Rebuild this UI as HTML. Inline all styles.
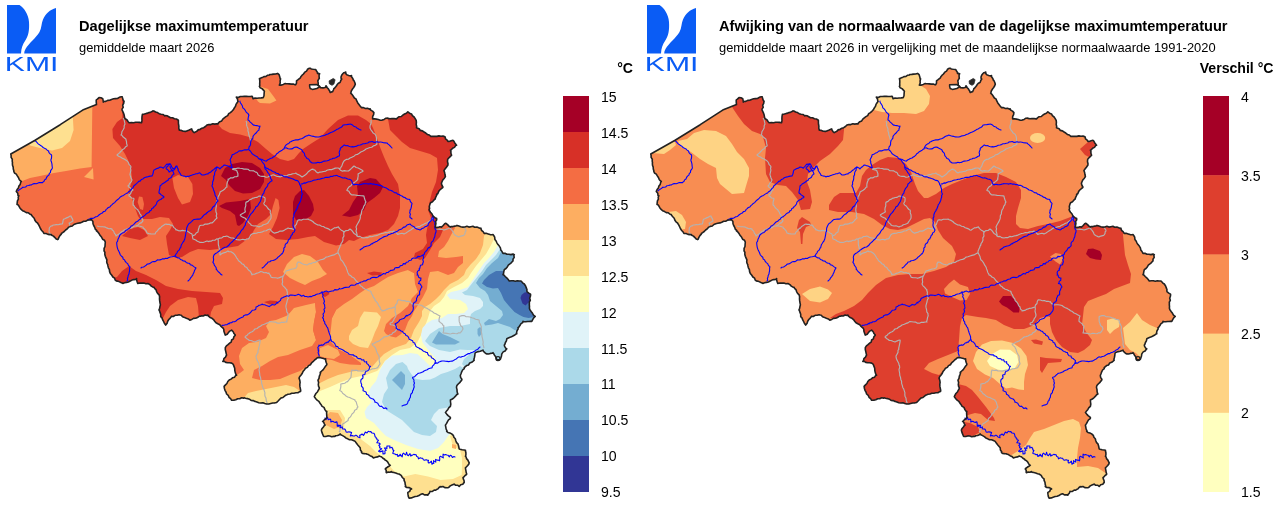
<!DOCTYPE html>
<html lang="nl"><head><meta charset="utf-8"><title>KMI - Dagelijkse maximumtemperatuur</title>
<style>
html,body{margin:0;padding:0;background:#fff;}
body{width:1280px;height:507px;overflow:hidden;font-family:"Liberation Sans",sans-serif;}
svg{display:block;font-family:"Liberation Sans",sans-serif;}
.rv{fill:none;stroke:#0000ff;stroke-width:1.1;stroke-linejoin:round;stroke-linecap:round}
.pv{fill:none;stroke:#b2b2b2;stroke-width:1.15;stroke-linejoin:round}
.ol{fill:none;stroke:#222;stroke-width:1.6;stroke-linejoin:round}
.lb{font-size:14.1px;fill:#000}
.t1{font-size:14.6px;font-weight:bold;fill:#000}
.t2{font-size:12.9px;fill:#000}
.un{font-size:14.1px;font-weight:bold;fill:#000}
</style></head><body>
<svg width="1280" height="507" viewBox="0 0 1280 507">
<defs>
<clipPath id="be"><polygon points="10.8,154 35.1,140.2 60.2,124.7 82.7,110.1 96.5,104.6 96.3,102.6 96.2,100.6 96.5,99.6 97.4,99.1 99,97.6 101,97.8 102.8,98.8 102.8,98.8 103.2,100.8 103.3,102.1 103.8,101.5 105.9,101.4 107.7,100.4 109.7,100.2 111.5,99.4 113.5,98.8 115.5,98.6 117.5,98.5 119.3,97.3 121.2,96.8 122.3,96.8 122.5,97.7 123,99.7 124.1,101.4 124,101.4 123.7,103.4 122.7,105.2 123.2,107.4 122,109.1 122.1,110.1 122.6,111.1 123.4,112.9 124.1,114.8 124.5,116.8 124.6,117.6 125.1,118.7 126.9,119.8 128,121.5 129.1,122.7 129.5,122.8 131.5,122.6 133.5,122.7 135.5,122.3 137.5,122.3 139.5,122.4 141.6,122.7 142,120.7 141.9,118.7 142,116.7 142.4,114.4 144.4,114 146.3,113.4 147.9,113.1 148.1,112.8 150.2,112.4 152,111.5 152.9,110.9 153.8,111 155.6,112 157.5,112.6 159.2,113.7 161.1,114.2 163.2,114.5 164.8,115.9 165.4,115.6 167,115.8 168.8,116.7 170.5,117.7 172.6,117.8 174.4,118.8 176.4,119 178.4,120.2 178.4,122.2 178.5,124.2 178.9,126.2 178.8,128.2 179.4,130.2 181.4,130.4 183.3,131.2 185.5,131.4 187.4,130.7 189.2,130 191,129.1 191.7,128.9 192.1,130.2 193.2,131.9 194.2,132.7 194.8,132.3 196.7,131.4 198.1,129.9 200.1,129.4 200.5,128.9 201.8,128.3 203.7,127.7 205.4,126.5 206.9,125.1 208,124.7 208.8,124.5 210.8,124.6 212.8,123.8 214.8,124.1 216.8,123.7 218,123.9 218.3,123.1 219.8,121.7 221.7,120.9 222.8,119.1 224.3,117.8 225.9,116.6 227.7,115.6 228.7,113.7 230.4,112.6 231.8,111.4 231.9,111.3 233.3,109.8 234.3,108 235.4,106.4 236,104.4 237.1,102.8 238.1,101.4 237.8,101.1 237.5,99.1 236.3,97.1 238.3,97.5 240.3,96.5 242.3,96.5 244.3,96.4 246.3,96.3 248.3,96.5 250.3,96.5 251.9,96.3 252.3,96.5 253.1,98.8 255,98.1 257.1,98.2 259,98 261.1,97.9 263.2,97.6 264,95.7 264.1,93.7 264.3,91.7 264.4,91.3 263.4,90.1 262,88.6 260.1,87.7 259.4,86.3 259.8,85.8 259.7,83.8 259.8,81.8 259.7,79.8 259.4,78.8 260.3,78.3 262.2,77.6 263.9,76.6 266,76.4 267.7,75.2 269.4,75 269.7,74.5 271.7,74.4 273.6,74.1 275.6,74 277.6,73.4 278.2,73.8 279.2,74.9 279.8,76.9 280.2,78.8 280.6,78.9 280.1,80.9 280.2,82.9 279.4,85.1 281.4,85.1 283.3,84.4 285.2,83.5 285.7,83.8 287.3,83.7 289.3,83.9 291.3,84.1 293.3,84 295.2,84.9 295.7,84.6 296.5,83.2 296.5,80.8 298.1,79.6 299.7,78.3 300.4,77.8 300.8,76.7 302.1,75.2 303.6,74 303.6,73.8 304.8,72.2 306.5,71.1 307.4,69.6 307.5,69.2 309.3,68.3 310.5,68.3 311.2,69 313.3,69.3 315.3,69.5 316.2,70.2 316.5,71.1 317.7,72.7 317.5,73.4 319,73.6 319.7,73.7 319.1,74.9 319.1,76.9 319.3,78.4 318.9,78.8 317.8,80.9 318.2,82.9 318.2,84.9 318.1,85.3 319.5,86.2 320,87.2 320.8,87.7 323.1,87.9 325,87.4 325.7,87.2 326,85.7 326.9,86.9 326.9,87.5 328.4,88.9 328.8,89.8 329.5,90.6 330.1,92.3 330.4,92.5 332,91.7 332.5,91.8 333.4,90 333.9,88.5 334.5,88.3 335.7,86.8 336.9,85.2 337,84.7 338.1,83.5 339.8,82.5 340.2,82.2 340.7,80.7 341.7,79 341.2,79 341,77.1 341.4,75.9 341.8,75.1 343,73.5 343.9,72.7 344.7,72.6 345.8,72.1 345.6,73 346.5,74.6 346.7,74.6 348.6,75.5 350.6,75.9 351.5,75.6 351.5,76.8 352.8,78.5 353.4,80.3 353.7,80.2 354.6,82 355.3,84.1 354.6,86 353.6,87.7 352.8,88.5 352.3,89.3 351.3,91 350.9,92.9 350.7,93.2 352.2,94.6 353.3,96.3 354.4,98 356.2,99.1 356.4,100.1 356.9,101.1 357.8,102.9 359,104.5 360.1,106.1 361.4,107.6 361.5,107.6 363.5,107.6 365.4,108.5 367.4,108.3 369.3,109.1 370.2,108.9 370.7,110.1 372.5,111.1 373.9,112.6 373.6,114.6 372.7,116.4 372.6,118.5 372.7,118.9 374.3,118.8 376.3,119.1 378.3,119.5 380.2,120.2 382.2,120.1 384.1,119.4 385.9,118.2 387.7,118.1 387.9,118.4 389.9,118.8 391.9,118.6 393.9,118.5 395.9,118.9 396.5,118.9 397.5,117.9 399.1,116.7 401.3,116.5 402.8,115.1 404.5,114 406.4,113.3 407.8,111.9 407.9,111.9 409.5,113.2 411.5,113.9 412.4,115.7 414.1,117 415.2,118.6 416,120.2 416.2,120.4 416.4,122.4 416.2,124.5 416.7,126.4 416.5,127.7 417.2,128 419.1,128.7 420.4,130.4 422.4,130.9 424.1,132 425.3,132.7 425.8,133.1 427.4,134.4 429.3,135 430.8,136.4 431.6,136.4 432.9,136.4 434.9,136.4 436.9,136.4 438.9,135.9 440.9,136.3 442.9,136.1 444.1,136.4 445,136.8 445.5,138.8 447.2,140.1 447.9,141.5 448.3,141.4 450.3,141.1 452.2,140.4 452.9,140.2 453.8,141.1 454.8,142.9 456,144.5 456.6,145.2 455.6,145.6 454.5,147.4 452.6,148.3 451.3,149.8 450.4,150.2 450.9,151.2 450.9,153.3 451.6,155.2 450.2,156.6 448.8,158 447.9,159 447.6,159.7 447.5,161.7 448,163.7 447.9,165.3 447.6,165.5 446.4,167.2 445.2,168.8 444.1,170.3 443.9,170.5 444.6,172.4 444.9,174.3 445.4,176.5 444.4,178.2 443,179.7 442.1,181.5 441.6,182.8 441.4,183.5 442,185.5 442.9,187 442.9,187.3 441.4,188.7 439.8,190 438.6,191.6 437.9,193.5 436.6,194.5 436.8,195 435.9,196.8 435.3,198.3 435.3,198.9 433.8,200.2 432.5,201.7 430.6,202.7 430.3,203.3 429.8,204.6 429.3,206.5 429.6,208.6 429.1,209.6 429.4,210.5 430.5,212.2 431.9,213.7 432.8,215.8 434.3,217.2 435.9,218.4 436.6,218.3 436.7,219.8 435.6,221.6 435.9,223.7 435.5,225.7 435.3,227.1 435.9,227.6 437.9,227.4 439.9,226.8 441.6,227.1 441.7,226.9 443.2,225.5 444.5,224 445.4,223.3 446.3,223.6 447.8,224.9 449.2,226.4 450.4,227.1 450.9,226.5 453,226.6 454.9,226.1 456.6,225.8 457,225.4 458.9,226.1 460.8,226.8 462.9,227.1 464.9,227 466.9,226.3 468.9,227.1 470.9,226.7 472.9,226.3 474.7,227.3 476.9,227 478.7,227.7 480.5,228.4 480.9,228.2 481.5,230.3 483.1,231.6 484.2,233.4 486.2,233.3 488.2,233.9 490.1,234.6 492.1,234.8 493,234.6 493.7,235.5 494.7,237.2 494.9,239.4 496.1,241 496.9,242.8 498,244.6 499.3,246.1 500.4,247.9 500.8,249.9 502,251.5 503,253.4 505,253.2 506.9,254.3 508.9,254.2 510.9,254.6 513,254.1 514.3,254.7 513.8,255.2 514.2,257.4 513,259.2 513,260.9 512.8,261.1 511.5,262.6 509.9,263.9 508.3,265.1 507.3,267 506,268.5 504.3,269.7 503.8,271.6 503.5,273.6 503,274.7 503.9,275 505.2,276.5 506.7,277.8 508,279.3 509.3,281 511.3,280.8 513.3,280.8 515.3,281.3 517.3,280.8 519.3,281 520.6,281 521.3,281.3 522.6,282.8 524.3,284 525.6,286 526.3,287.9 527,289.8 526.8,291 527.2,291.8 528.8,293.1 530.5,294.2 530.6,294.8 530.4,296.3 529.7,298.2 530.3,300.3 529.3,302.2 529.4,304.2 529.3,304.8 529.5,306.2 529.4,308.2 530,310 530.2,310.1 531.3,311.7 532.5,313.3 533.5,315.1 535.1,316.3 535.2,316.4 533.7,317.8 532.7,319.6 531.8,321.3 531.7,321.2 529.7,321.4 527.7,321.5 525.7,321.7 523.7,321.7 523.1,321.3 522.6,322.6 520.8,323.8 519.9,325.6 518.7,327.2 518,327.6 518.2,328.9 517,330.7 516.6,332.7 516.8,333.8 515.9,334.1 514.3,335.3 512.5,336.2 510.7,337.1 508.8,337.8 506.8,338.8 506.4,340.8 505.4,342.5 504.8,344.5 504.3,345.1 504.6,346.4 505.7,348.1 506.8,348.9 506.3,349.3 505.1,351 503.2,351.9 501.8,353.9 501.5,355.9 500.9,357.8 500.5,358.9 499.9,359.6 497.8,359.9 497,360 496.5,358.9 495.8,357.1 495.5,356.4 494.6,355.5 493.7,353.7 493,352.6 492.4,353.2 490.4,353.4 488.5,354 486.7,353.9 486.4,353.8 484.8,352.6 483.4,351.2 483,350.1 482.1,350.6 480.3,351.3 478.2,351.6 476.4,352.3 475.4,352.6 475,353.5 474.8,355.5 474.4,357.5 473.9,359.4 474.2,360.2 473.2,361.1 471.7,362.3 469.7,363 468.6,364.9 466.6,365.6 465.1,366.9 464.2,367.7 464.3,368.6 462.6,370 461.7,371.8 461,373.7 460.4,375.2 460.3,375.6 460.7,377.6 461.9,379.3 461.7,380.2 460.9,381.1 459.7,382.7 458.2,384 456.9,385.6 456.6,386.5 456.5,387.6 457,389.6 457.1,391.6 457.6,393.5 457.9,394 456.6,394.8 455.3,396.4 453.9,397.8 452.3,399 450.4,400 450.5,402 450.8,404 450.4,406.3 448.9,407.7 447.9,409.4 446.6,410.9 445.4,412.6 446.7,414.1 448.1,415.6 449.7,416.8 450.4,417.6 450.3,418.6 448.5,419.9 447.5,421.6 446.6,423.4 445.4,425.1 445.8,427.1 446.1,429 447,430.9 446.7,431.4 447.9,432.4 449.9,433 451.7,433.9 452.9,435.1 453.3,435.3 453.9,437.3 455.3,438.7 455.8,440.7 456.6,442.6 457.9,443.9 458,444.1 458.6,446 459,448 459.2,448.9 460.2,449.3 462.1,449.8 464.1,450 465.5,450.2 465.4,450.8 465.9,452.8 465.9,454.8 465.5,456.4 465.9,456.6 466.5,458.6 467.9,460.1 468.7,462 469.2,462.7 468.9,463.9 467.7,465.5 466.3,467 465.5,467.7 465.5,468.6 465.9,470.6 466.2,472.5 466.7,474 466.5,474.5 464.9,475.7 463.6,477.2 463,477.7 463.3,478.9 464.1,480.8 464.2,482.8 464,482.5 462.8,484.2 460.7,484.8 459.2,486.5 457.6,485.2 455.4,485.1 454.2,484 453.9,484.2 452,485 450.2,485.9 448.7,487.4 447.9,487.8 446.8,487.8 444.8,487.6 443,486.5 440.9,486.9 440.4,486.5 439.2,487.3 437.9,488.9 436.1,489.8 435.4,490.3 434.2,490.1 432.4,491.4 430.4,491.5 430.1,491.3 429.3,493.2 427.9,494.6 427.9,495.3 426.5,494.8 424.4,494.9 422.6,493.8 421.6,494 420.6,494.4 419,495.6 417.1,496.3 415.3,496.5 415.1,496.6 413.1,497.2 411.3,497.9 409.1,498.3 408.3,496.4 408,494.4 407.8,492.8 407.9,492.4 409.7,491.4 410.5,489.4 411.6,489 410.8,488.4 409,487.6 406.8,487.5 405.3,486.5 405.7,486.2 405.2,484.3 405,482.3 404.1,480.4 404.1,479 403.6,478.7 402.2,477.3 401.2,475.4 399.4,474.3 399,474 397.6,473.7 395.7,473 393.8,472.5 391.8,472.1 391.5,471.5 390.1,472.2 388,472 386.5,472.7 386.2,472.4 386.2,470.3 385.3,469 385.6,468.5 387.2,467.3 388.9,466.3 390.3,465.2 389.9,465.2 388.6,463.7 387.6,461.9 386.2,460.5 385.3,460.2 384.6,459.2 382.9,458.2 381.4,456.7 380.3,456.4 379.3,456.1 377.5,456.9 375.5,457.2 374,457.7 373.4,457.9 371.9,456.4 370,455.7 368.4,454.6 366.5,453.9 366.5,453.7 364.5,453.6 362.5,453.4 361.5,452.7 361.7,451.7 360.4,450 360.2,447.7 358.9,446.2 357.6,444.7 356.3,443.1 355.2,441.4 353.4,440.5 351.6,439.7 349.4,439.7 347.7,438.9 347.7,438.7 345.8,437.9 344.3,436.6 342.6,435.6 340.8,434.7 340.2,433.9 339.4,434.7 337.6,435.5 335.5,435.8 335.1,436.4 333.7,436.4 331.7,436.7 329.7,436 327.7,435.9 325.7,436.5 323.9,436.4 323.5,436.3 322.8,434.5 322,432.6 321.5,430.7 321.4,430.1 321.9,428.7 323.2,427.2 324.4,425.6 325.1,425.1 324.5,424.1 323.6,422.2 322.6,421.4 323.3,421.1 324.6,419.6 326.1,418.3 326.8,417.8 326.8,416.6 326.7,414.6 326.6,412.6 326.8,411.5 325.9,411.1 324.8,409.4 324,407.4 322.1,406.4 321.1,404.6 320.6,404 319.9,403 318.8,401.3 317.1,400.2 315.8,398.7 314.5,397.1 314.3,396.5 314.9,395.3 315.9,393.5 317.4,392 318.2,390.3 319.3,388.5 319.3,387.7 318.6,386.5 318.3,384.6 318.6,382.5 318,380.2 319,378.4 319.3,376.4 320,374.6 320.6,372.7 320.2,372.4 321.7,371 323.3,369.6 324.4,367.9 325.5,366.3 326.8,364.7 326.8,363.9 326.3,362.7 325.7,360.8 325.6,358.9 325.4,359.2 323.5,358.5 321.5,358 319.6,357.4 318,357.6 317.5,357.7 316,359 314.4,360.2 313,361.7 311.8,362.7 311.5,363 310.4,364.7 308.5,365.6 307.4,367.4 305.5,368.3 304.3,369.9 303,371.4 303.1,371.5 302.3,373.3 301.1,375 299.8,376.5 299.2,377.7 299.1,378.4 299.8,380.3 300.1,382.3 299.8,384.4 299.9,386.4 300.3,388.3 300.7,390.3 300.5,391.5 299.7,391.6 297.9,392.7 295.9,392.8 293.9,393.2 291.8,393.2 290,394 288,394.2 286.1,395.1 285.5,395.2 284.6,396.2 283,397.4 280.9,398.1 279.5,399.5 278.1,401 276.7,402.4 275.4,402.8 274.7,402.9 272.7,403 270.7,403.5 268.8,404 266.7,404 264.8,403.4 262.9,402.7 260.8,403 258.8,402.7 256.9,402 255.4,401.5 255,401.4 253.2,400.6 251.1,400.4 249.4,399.2 247.5,398.6 245.5,398.2 244.1,397.7 243.7,398.1 241.6,397.8 239.7,398.8 237.7,398.7 235.8,399.7 233.9,400.1 231.6,400.3 230.6,398.6 229,397.3 228.2,395.3 226.6,394 226,392.1 225,390.3 224.4,388.4 224.1,386.5 224.1,386.4 225.5,384.9 226.9,383.5 227.8,381.5 229.2,380 231,379.1 232.5,377.8 234.6,377.2 235.7,375.4 236.6,375.2 235.8,374.2 235.2,372.3 234.8,370.3 234.7,368.3 234,366.4 233.3,364.5 232.8,363.9 231.7,363.1 229.7,362.7 227.7,362.8 225.7,362.4 223.9,361.2 222.8,361.4 223.5,360.7 223.9,358.6 225.5,357.2 226.3,355.4 226.6,355.1 226.2,353.6 225.8,351.6 225.3,349.6 225.3,347.6 226.4,345.8 228,344.6 229.4,343.3 230.3,342.6 231.2,342.1 231.6,340 233.4,338.8 233.9,336.7 235.3,335.1 234,333.6 233.2,331.7 231.6,330.1 229.8,331.1 228.5,332.6 227.2,334.2 225.3,335.1 224.6,333.2 223.9,331.3 223.8,329.3 222.8,327.6 222.5,327.8 221.1,326.4 219.8,324.8 217.8,323.8 216,322.8 214.7,321.2 213.5,319.6 212,318.3 210,317.5 208.5,316.2 207.8,315 207.2,315.5 205.1,315 203.2,316 201.2,315.9 200.3,316.3 199.2,316.3 197.5,317.5 195.6,318.3 193.5,318.4 191.8,319.4 190.2,320.1 189.8,320.2 188.3,318.9 186.3,318.3 184.5,317.4 182.6,316.8 181.2,315.2 180.2,315 179.1,314.7 177.2,315.3 175.1,315.3 173.3,316.5 171.4,316.3 171.5,316.6 170.2,318.1 168.8,319.5 167.7,321.2 167.1,323.2 165.7,325.1 164.5,323.5 163.7,321.7 162.7,319.9 162.1,317.9 161.4,317.5 160.7,316.4 160.7,314.3 160,312.4 159.4,310.5 158.9,310 159.5,308.8 159.9,306.8 160.4,304.8 160,302.8 159.7,300.9 159.5,298.9 159.6,296.8 159.1,294.8 157.6,293.4 156.6,291.6 156,289.7 154.5,288.3 154.1,287.3 153,287.2 151.3,286.1 149.9,284.6 147.9,283.5 145.9,283.7 143.9,283 141.9,283.1 139.9,283 137.8,283.5 137.1,281.6 136.5,279.7 136.6,278.5 136,279.2 133.9,279.6 132,280.1 130.3,281 130.2,281.1 128.4,281.9 126.5,282.4 124.5,282.8 122.8,283.5 122.7,283.3 120.9,282.5 119,281.6 117.1,281.1 116.5,281 115.3,280.2 114.6,278.2 112.9,277 111.8,275.3 110.3,273.5 109.6,271.6 109.4,269.6 108.4,267.8 107.9,265.9 107.8,264.7 107.3,263.9 106.7,262 106.9,259.9 106.1,258.1 105.3,256.2 104.8,254.3 104.9,252.2 104,250.9 104.1,250.4 104.1,248.3 105,246.5 105.1,244.5 105.3,242.1 104.5,240.2 102.6,239.2 101.5,237.1 100.2,235.6 99.2,233.8 98,232.2 96.5,230.9 96.9,230.7 95.3,229.2 94.7,227.3 93.7,225.5 93,223.7 92.9,221.5 91.5,219.6 89.5,220 87.5,220.1 86.5,220.8 85.7,221.2 83.7,221.2 81.8,222.2 80,222.9 77.7,223.3 75.8,223.8 73.9,224.5 72.3,226 70.3,226.4 68.9,227.1 68.5,227.3 67.2,228.9 65.6,230 64.2,231.5 62.6,232.7 61.4,233.4 61.3,234.1 59.9,235.6 58.9,237.3 58.2,239.2 57.6,239.6 56.2,239.1 54.9,237.6 53.5,236.1 51.7,235.2 51.4,234.6 50,234.6 48,234.4 46.1,233.5 43.9,233.4 42.9,231.7 41.4,230.2 40.4,228.5 39.6,226.7 38.7,224.9 37.6,223.3 37.7,223.1 36,221.8 34.9,220.2 34.2,218.2 32.8,216.8 31.5,215.2 31.3,214.6 30,214.2 28.4,212.8 26.3,212.6 24.6,211.6 22.6,210.8 21.2,209.4 19.9,207.9 18.9,206.1 17.7,204.5 17,204.5 17.2,202.9 17.4,200.9 18.4,199.1 18.2,197 18.8,195.8 18,195.4 17.8,193.3 16.3,191.4 17.1,189.6 18.4,188 18.9,186 20.2,184.4 20.7,182.4 21.3,181.4 20.5,180.9 19.2,179.4 18.4,177.5 17.3,175.9 16.3,174.1 14.5,173 13.8,171.4 13.9,171.1 13.3,169.1 13.2,167.1 12.5,165.2 12.4,163.2 12.5,162.6 12.2,161.2 12.3,159.2 11.1,157.4 11.1,155.3"/></clipPath>
<g id="ovl">
<polyline points="123,118 124.1,119.8 124.5,121.7 125,124 124.2,125.8 124.1,127.9 123,130 121.9,131.7 121.7,133.8 121,135 121.8,135.1 122.9,136.8 124.5,138 126,139.3 126,140 126.5,141.5 126.6,143.5 127.2,145.4 127,146 125.7,146.7 124.5,148.4 122.7,149.4 121.4,151 120,152 120.1,152.5 118.5,153.6 117,155 118.6,156.2 120.4,157 122,158 122.1,158.2 124,158.9 125.7,160 127.3,161.1 128,162 128.5,162.8 129.2,164.7 130.7,166.2 131,167 130.5,168.1 130.9,170.2 130.5,172.1 130,174 129.9,174.1 130.4,176 131,177.9 132,180 131.2,181.9 129.7,183.3 128.9,185.1 128,186 128.5,186.7 130.1,187.8 131.6,189.1 133,190 132.5,190.2 131.3,191.7 130.6,193.7 129,195 129,196 130.1,196.4 131.5,198 133.6,198.3 134,199 133.6,200.3 133.1,202.2 133.1,204.3 133,205 134,205.8 135.1,207.5 136.5,208.9 138,210 137.9,210.3 139.1,211.9 139.9,213.8 141.2,215.3 141,216 141.5,217.4 142.5,219.2 143,221 142.8,220.9 141.6,222.6 139.7,223.4 138.3,224.9 136.5,225.8 136,226" class="pv"/>
<polyline points="52,235 50.3,233.9 49,232 49.2,230 49.3,228 50,227 50.6,226.3 52.6,225.6 53,225 54.3,225 56.3,224.6 58.3,224.7 60.2,224.1 62,224 62.4,223.9 62.9,222 63.2,219.9 64,219 64.8,218.7 66.6,217.9 68.5,217.1 70.2,216 71,216 71.3,217.2 72.5,218.9 73,221 71.3,222.1 69.5,223 69,223 69.7,224.4 70,226" class="pv"/>
<polyline points="97,226 98.9,226.5 100.9,226.7 103,226.8 104,227 105,226.9 106.8,227.9 108.7,228.7 110.7,228.6 112,229 112,229.8 113.7,231.1 114.3,233.1 115.6,234.7 116,236 116.5,235.6 118.2,234.5 119.9,233.5 121.3,232 123.1,231.1 124,230 124.6,229.7 126.5,229 128,229 128.5,228.8 130.4,228.3 132.3,227.6 133.9,226.3 136,226 138,226 140,226.3 141.9,226.8 143,227 143.2,228 144.8,229.3 146.1,230.8 147,233 148.9,233.6 150.9,233.9 152.9,234 155,234 155.9,232.2 157.4,230.8 158.6,229.2 160,228 160.4,228.2 161.6,226.5 163.3,225.4 165,224.3 166,224 166.9,224.4 169,224.2 170.8,225.3 172,225 172.7,225.6 173.7,227.4 175.3,228.6 176,230 176.5,229.8 178.4,230.6 180.4,230.9 182.5,230.4 184.5,230.7 186,231 186.6,230.8 188.3,231.8 190,232.9 192,234 192.4,236 192.7,237.9 193,239 193.9,239.3 195.7,240 197.4,241.2 199.2,242 200,242.5 201,242.2 203.1,242.5 205,241.8 206.9,241 209,241.6 210,241 211,241.2 212.8,240.2 214.9,240.3 216.7,238.9 218,239" class="pv"/>
<polyline points="246,121 246.8,122.9 246.5,125 247.2,126.9 248,128.7 248,130 247.9,130.8 248.6,132.7 248.8,134.7 249.5,136.6 250,138 250,138.6 250.5,140.5 251,141" class="pv"/>
<polyline points="232,169 233.9,169.6 235.9,170.1 237,171 237,171.6 237.9,173.5 237.9,175.5 238,176 236.6,176.6 234.6,176.8 232.8,177.9 230.7,177.7 229,179.1 228,179 228.3,180.1 227.4,182 226.9,184 226.8,186 227,187 226,187.3 224.8,189 223.1,190.2 221.4,191.2 220,192 220.1,192.5 219.4,194.4 218.5,196.2 218,197 217.9,198 217.4,200 216.5,201.8 216,203.7 216,205 216.4,205.8 216,207.8 215.8,209.8 216,212 216.8,213.9 216.2,216 217,218 215.5,219.4 214.2,220.9 212.8,222.3 212,223 211,222.8 209.1,223.6 207.2,224.1 205.1,224 203.3,225.2 201.3,225.3 200,225.6 199.4,226.1 198.9,228 198.3,230 198,232 196.2,233 195.1,234.8 193.2,235.6 193,236" class="pv"/>
<polyline points="232,169 234,168.6 236,168.6 238,168 240,168.3 242,168.5 243.9,169.1 246,169 248,169.3 249.7,170.6 251.7,170.7 253.8,170.9 255.5,172.1 256,172 257.3,172.9 258.2,174.9 260,176 262,176.4 264,176.2 265.9,177.2 268,177 269.7,175.9 271.8,175.6 272,175 273.6,174.9 275.5,175.7 277.3,176.5 279.4,176.6 280,177 281.2,176.5 283.1,175.8 285.1,175.8 287.1,175.6 288,175 289,174.6 291,174.4 292.9,173.8 294.9,173.5 296,173 296.4,173.8 298.3,174.6 300.1,175.5 301.7,176.7 302,177 303.3,176.2 305.1,175.1 306.6,173.8 308,172 309.6,170.8 311.2,169.6 313,169 312.9,169.5 314.9,170.1 316.1,171.7 318,173 319.8,172.1 321.8,171.9 323.8,171.5 325.8,171.1 327.5,170 328,170 329.5,169.6 331.6,169.6 333.5,168.9 335.3,168.1 337.3,168 338,168 339.2,168.6 340.5,170.2 342,171 342.4,171.1 344.4,170.6 346.4,171 348,171 348.5,171 350,169.7 351.5,168.4 352.9,167 354,166 354.5,166.2 356.1,167.5 358.1,168 360,169 361.8,169.9 363,171 362.8,171.4 361,172.3 359.3,173.3 358,174 358.2,174.6 358.1,176.6 357.6,178.6 358,179 357,180.3 355.5,181.6 353.9,182.8 352,184 351,185.7 349.1,186.8 347.9,188.4 347,190 346.9,190.4 348.9,191.2 349.8,193.1 351.2,194.5 352,195 353.1,194.8 355.1,195 357.1,195.4 359.1,195.5 361.1,195.7 363.1,195.9 364,196 364.1,197.1 364.7,199 365.3,200.9 366,202 365.4,202.5 365,204.6 363.8,206.2 363.2,208.2 362,210 361.5,211.9 361.3,213.9 360.3,215.8 360.3,217.8 360,219 359.7,219.7 358.9,221.6 357.9,223.3 356.9,225 356,227 356.6,228.9 356,231 356.7,233 357.1,234.9 357,236 357.8,236.6 360,236.4 361.7,237.6 364,238 365.9,237.5 368,237.6 369.8,236.4 371.9,236.8 374,236 376,235.6 377.9,235.1 379.7,234.2 381.6,233.5 383.6,233.2 384,233 385.5,232.5 387.6,232.7 389.5,231.9 391.5,231.8 393.4,231.4 394,231 395.2,231.7 396.5,233.2 398,234.5 398,234.1 399.9,233.7 401.9,233.3 404,233.9 406,233 407.6,231.9 409.3,230.7 411.1,229.8 412,229 412.7,228.5 414.5,227.8 416.4,227.2 418.4,226.6 420,226.5 420.3,226.1 422,225.1 423.8,224.3 425.5,223.2 427.5,222.7 428,222 429,221.3 430.8,220.3 432.1,218.8 433,218" class="pv"/>
<polyline points="371,120 371.2,122 370.7,124 370,125.9 370,128 370.9,129.8 372.1,131.4 373.2,133.1 375.1,134.2 376,136 376.5,138 376.5,140 376.6,142 377,144 375.4,145.3 373.4,145.9 372,147 371.9,147.3 369.9,147.5 368,148.2 366,149 364.4,150.2 362.6,151.2 360.8,152 359.2,153.2 358,154 357.6,154.4 355.5,154.8 354,156.2 352.2,157.1 350,158 348.4,159.3 346.2,159.4 344.5,160.5 344,161 343.3,162.1 342.5,163.9 341.9,165.9 341,167 340.9,167.8 339,169" class="pv"/>
<polyline points="240,215 241.7,214 243.5,213.1 245,212 245.4,211.9 244.9,209.8 245.1,207.8 245.8,205.9 245.7,203.9 246,202 246.2,202.1 248.1,201.4 249.5,199.8 251.4,199.1 253.1,198.1 254,198 255.1,197.5 257.1,197.4 258.8,196.1 260,196 260.8,196.2 262.8,196.8 264.6,197.5 265,198 265.1,199.5 264.9,201.5 263.8,203.3 264,204 264.8,205.1 266.5,206.3 267.6,208 268.9,209.5 270,210 270.4,210.9 270.2,212.9 271,214.8 271.1,216.8 271,218 270.7,218.8 269.6,220.5 268.4,222.1 268,223 267.1,223.5 265.3,224.3 263.3,224.8 261.7,226 259.7,226.5 259,227 257.9,226.5 256,225.8 253.9,226 252,225.5 251,225 250.6,224.1 249,222.9 247.9,221.2 247,220 246.5,219.9 245.2,218.2 243.3,217.4 241.5,216.5 240,215" class="pv"/>
<polyline points="218,239 219.8,238.1 221.8,237.9 223.5,236.5 225.6,236.5 226,236 227.5,236.2 229.3,237.2 231.1,238 232,238 233.2,238 235,238.9 236.9,239.7 238.9,239.9 240,240 240.9,239.7 242.8,239.3 244.9,239.9 246.8,238.9 248,239 248.8,238.6 249.8,236.8 250.7,235 252,234 252.4,233.8 254.3,233.4 256.4,233.2 258.2,232.5 260.3,232.4 262,232 262.2,232 264,231 266.1,230.8 267.8,229.8 270,229 271.2,230.6 272.5,232.1 274,233 274.4,233.1 276.3,232.6 278.3,232.1 280.1,231.1 282,231 282.2,231.2 284.1,230.4 285.7,229.3 287.5,228.4 288,228 289.3,228.5 291.3,228.6 293.2,229.3 294,229 294.9,228 294.9,225.8 296.4,224.3 297,222.3 297.9,220.6 298,220 299.4,219.7 301.5,220.1 303.4,219.2 305.4,219.3 307.4,219.2 308,219 309.2,219.7 311.1,220.4 312.8,221.5 314.3,223 316,224 317.8,225 319.9,225.1 321.5,226.3 323.6,226.5 324,227 325.3,227.7 327.2,228.4 329,229.1 330,230 330.9,230.2 332.6,229.1 334.3,227.9 336.3,227.6 338,227 338.4,226.9 339.5,228.6 341,229.9 342.8,230.9 344,232 344.3,231.7 346,230.6 348.1,230.5 350,229 351.6,230.2 352.9,231.8 354,233.4 355.9,234.4 357,236" class="pv"/>
<polyline points="344,232 343.7,234 344,236 342.8,237.9 343,240 342.3,241.9 341.1,243.5 340.6,245.5 340,246 339.8,247.3 338.9,249.1 338.1,251 338,253 338.2,252.9 339.1,254.7 340,256.5 340.4,258.5 341,260 341.4,260.2 342.8,261.7 343.9,263.4 344.7,265.2 346,267 346.6,268.9 347.3,270.8 347.9,272.7 349,274.4 349,275 350.4,275.4 351.9,277 354,278 355.2,279.6 356.4,281.2 358.1,282.4 358,283 359.4,283.8 360.4,285.7 362.2,286.7 363,288 363.5,288.1 365.2,289.2 367.1,289.8 368.9,290.8 370,291 370.9,291.5 371.4,293.5 372.6,295.2 373.3,297.1 374,298 374.7,298.6 375.2,300.6 376.7,302 377.9,303.7 378.6,305.5 379,306 380,307 380.5,309.1 382.2,310.4 382,311 383.5,310.6 385.5,310.1 387.2,309.1 388,309 389.1,308.4 391.2,308.3 393.1,307.6 395,307 395.5,305 397,303.5 397.3,301.5 398,300 398.4,299.9 400.4,300 402.3,300.7 404,300.5 404.4,300.6 406.2,301.3 408.3,301.3 410,302 410.4,301.7 411.5,303.6 413.5,304.3 414,305" class="pv"/>
<polyline points="218,239 218.3,241 218.3,243 218.4,245 219,246.9 219,248 219.5,248.9 219.9,250.8 219.9,252.9 220,255 221.6,253.7 223.4,252.9 225.4,252.4 227.1,251.4 228,251 228.9,251.7 231,251.8 233,253 234.5,254.4 235.6,256 236.6,257.8 237.9,259.3 238,260 238.9,261.1 240.6,262.2 241.8,263.8 243.8,264.6 244,265 244.8,266.4 246.7,267.4 247.8,269.1 249.1,270.6 250,271 250.7,271.9 251.6,273.7 252,275 252.4,274.3 254.5,274.2 256.3,273.4 258.3,272.8 260,272 260.1,271.5 262.1,271.8 264,272.7 266.1,272.5 268,273.4 269,273 269.3,274 270.6,275.6 271,277 271.5,277.4 273.5,277.7 275.5,277.8 277,278 277.6,278.3 279.5,277.6 281.3,276.9 283,276 283.4,276 284.3,274.3 285.2,272.5 286,271 286.3,270.8 288.2,270.4 290.1,269.7 292,269 294,268.8 296,268 297,266.2 296.9,264.1 298,262 300,262.3 301.7,263.5 303.6,264.2 305.6,264.5 306,265 307.5,264.8 309.2,263.6 311.3,263.7 312,263 313.1,262.8 315.1,262.4 316.8,261.3 318.7,260.6 320,260 320.5,259.8 322.6,259.4 324.4,258.6 325.9,257.1 327.9,256.7 330,256 331.9,255.4 333.9,254.9 335.6,253.9 337.4,253 338,253" class="pv"/>
<polyline points="283,276 282.7,278 282.3,279.9 282.7,282 282,284 283,285.8 284.5,287.2 285.7,288.7 287,290 286.7,290.2 287.4,292.2 287.2,294.2 287.6,296.2 288,298 288.3,298.2 287.3,300 287,302 286.4,303.9 285.9,305.9 286,307 286.1,307.9 286.6,309.8 286.8,311.9 288,313.6 288,315 288.2,315.7 287.5,317.6 287.2,319.6 286.6,321.5 287,322 285.4,322 283.4,322.4 281.4,322.2 279.5,323.2 278,323 277.4,323.2 275.6,322.1 273.6,322 271.6,321.7 270,321.5 269.6,321.6 268,322.9 266,323.4 264.3,324.3 262,325 260.4,326.3 258.6,327.1 257.1,328.5 255,329 254,330 253.7,330.6 252.1,331.8 250.2,332.5 248.7,333.8 248,334 247.2,335.2 245.5,336.2 245,337 245.8,337.8 247.3,339.1 249,340 249,340.5 251.1,340.5 252.9,341.3 255,342 256.8,341.1 258.6,340.3 260,340 260.2,340.6 259.9,342.6 259.5,344.6 259.1,346.6 258.6,348.5 259,349 258,350.3 258,352.4 257,354.2 256,356 256.2,358 256.9,359.9 257.9,361.7 258.8,363.5 259,365 259.5,365.5 259.7,367.5 259,369.5 259.3,371.5 259.7,373.5 259.8,375.5 260,376 260.5,377.4 260.8,379.4 261.6,381.2 261.6,383.3 262.2,385.2 262.7,387.1 263,388 263.7,388.9 264.3,390.8 264.9,392.7 264.8,394.9 265.2,396.8 266,398 266,398.7 266.3,400.7 267,402.5 267,403" class="pv"/>
<polyline points="395,307 395.4,309 395,311 395.5,313 396,315 395.5,317 394.2,318.6 393.6,320.5 393,321 392.4,322.2 390.4,323.1 390,324 390.8,324.8 392.9,325 394.7,325.7 396,326 396.6,326.6 397.3,328.5 397,329 396,330.3 394.8,331.8 392.9,332.7 392,334 391.7,334.5 389.7,334.9 388,336 386,336.6 384,337 382.5,338.4 380.9,339.5 379.4,340.9 379,341 377.5,341.6 375.7,342.3 374,343.5 372,344 373.2,345.6 374.8,346.9 375.6,348.8 376,349 376.3,350.6 377,352.5 377.9,354.3 379,356 379.2,358 379.1,360 379.5,362 380,364 378.8,365.6 378,367 377.8,367.6 375.9,368.3 374,368.8 371.9,368.9 370,370 368,369.8 366,370.1 364,370.6 362.1,371.1 360,371 358,370.9 356.1,370.1 354,370.5 352,370 351.3,371.9 351.3,373.9 351.1,375.9 351,377 350.6,377.9 349.3,379.4 348.1,381 347,382 346.4,381.9 344.8,383.2 342.7,383.6 341,384 340.8,384.2 340.9,386.2 340.6,388.2 340,390 339.7,390.4 341.6,391.4 342.6,393.3 344.3,394.4 346,396 347.7,397 349.7,397.5 351.5,398.5 353.3,399.2 355,400 354.8,400.3 356.2,401.8 356.7,403.8 357.3,405.7 358,407 357.4,407.2 356.7,409.2 354.7,410.2 354,412.2 352.6,413.6 352,414 351.4,415.2 350.4,416.9 348.7,418.2 348,420 348.2,420.4 346.5,421.5 344.9,422.7 343.1,423.7 342,425 342.3,425.4 341,427.1 340,428.8 340,431 339,432" class="pv"/>
<polyline points="414,305 416,304.7 418,304.7 420,305 422,305.5 423.6,306.7 425.4,307.7 427.2,308.4 428,309 429,309.5 430.5,310.7 432.4,311.6 434,313 435.9,313.7 437.6,314.8 439.4,315.7 440,316 439.5,317.2 439.1,319.2 439,321 439,321.3 440.5,322.6 442.1,323.8 443.2,325.6 444,326 443.6,327.1 443.7,329.1 443.6,331.1 443,333 443.1,333 445.1,333.1 447,333.4 449,333.7 450,334 451,333.8 452.9,333.2 455,333.5 457,333.7 458.9,332.7 460,333 460.7,332.4 461.9,330.8 463,329 462.4,327 460.7,325.7 460,324 460.1,323.8 459.3,321.9 459.1,319.9 459.2,317.9 459,317 459.9,316.3 462,315.6 464,315.6 465.9,316.6 467.9,316.7 470,317 471.8,317.8 473.8,318.3 475.6,319.3 477.6,319.6 479,320 479.2,320.5 479.3,322.5 480.4,324.3 481,326 481.3,326.2 481.4,328.2 481,330.2 481.4,332.2 481.8,334.1 482,336 481.9,336.2 482.4,338.1 482.8,340.1 483.2,342 483,344 482.8,344.1 483.5,346 484,348" class="pv"/>
<polyline points="436,229 438,229.3 440,229.4 442,229.5 444,230 445.9,229.4 447.8,228.7 450,228 451.3,229.5 452.6,231.1 453.6,232.8 454,234 454.5,234.8 456.2,235.8 458,236.6 459,237 459.8,236.4 461.8,235.9 463.7,235.4 464,235 465,233.7 465.2,231.6 466,231 465.8,229.8 464.5,228.2 464,228" class="pv"/>
<polyline points="34.4,140.4 35.8,141.2 36.9,142.4 38,143.6 39.2,144.6 40,145 40.5,145.6 41.9,146.3 43.1,147.5 44.5,148.3 46,148.9 47,150 47.1,150.1 48.5,151 49,152.7 50.1,153.9 51.6,155 51.6,156.6 51.5,158.2 50.9,159.8 51,161 51.3,161.3 51.7,162.9 52,164.4 52.1,166 52.4,168 51.6,169.4 50.6,170.7 50.5,172.4 49.2,173.6 49,175 48.8,175.1 47.5,176.1 46.6,177.4 46,179 44.6,179.9 43.9,181.5 43,182 42.5,182.6 40.9,182.6 39.2,182.6 37.7,183.2 36.2,183.8 34.6,183.6 33,183.9 31.6,184.9 30,185 30,185.1 28.4,185.5 26.8,185.8 25.6,187 23.9,187.2 22.3,187.4 22,188 21.1,188.6 19.7,189.5 18.4,190.4 18,191" class="rv"/>
<polyline points="88,219.6 89.5,219.1 90.9,218.3 92.7,218.4 94.2,217.8 95.5,216.9 97.1,216.5 98,216 98.3,215.5 99.6,214.5 100.9,213.6 102.4,212.9 103.4,211.6 105.1,211.2 106,210 105.9,209.6 107.2,208.6 108.3,207.5 109.9,206.9 110.9,205.6 112.1,204.6 113.3,203.4 114,203 114.6,202.6 115.7,201.4 116.8,200.2 118.1,199.3 119.3,198.2 120.3,197 122,196 123.5,195.4 124.8,194.4 126.1,193.6 127.6,192.9 128.7,191.7 130,191 130,190.8 131.1,189.6 132.1,188.4 133.3,187.3 133.9,185.7 135.3,184.8 136,184 136.5,183.7 137.6,182.6 138.7,181.4 140.4,180.9 141.3,179.5 142.9,178.9 144,178 144.1,177.7 145.6,177.2 147.2,176.9 148.7,176.4 150.3,176.1 152,176 152.7,174.5 153.2,173 153.4,171.4 154,170 154.1,170.1 155.5,169.2 156.9,168.5 158.5,168.1 160,167 161.6,167.3 163,168 163.3,168.2 164.3,167 165.4,165.8 166,165 166.5,164.4 168,164.1 170,164" class="rv"/>
<polyline points="170,164 171.1,165.2 171.6,166.8 172.7,168 173,169 173.6,168.8 174.8,167.8 176,166.7 177,166 177,166.4 177.4,167.9 178.3,169.4 178,170 178.5,170.9 179.3,172.3 180.2,173.6 181,175 180.9,175.3 182.4,175.8 184,176.1 185.6,176.6 186,177 186.9,176.4 188.6,176.4 190.1,175.8 191.6,175.2 192,175 193.1,174.7 194.6,174.3 196.1,173.7 197.7,173.6 199.2,172.9 200,173 200.5,173.7 202,175 203.6,174.9 205.2,174.6 206.7,174 208,174 208,173.5 209.4,172.7 210.9,171.9 212,170.8 213,170 213.4,170 214.5,168.8 215.8,167.8 217,167 216.9,167.4 218.6,167.7 220,169 220.9,167.7 222.3,166.8 223.5,165.7 224,165 224.7,165.1 226.3,165.6 228,166 229.5,166.7 230.8,167.6 232,168 232.3,167.6 231.8,166.1 231.3,164.5 230.7,163 230.8,161.4 230,160 230,159.9 230.7,158.5 231.5,157.1 232,155.5 232,155 232.9,154.4 234.4,153.9 235.8,152.9 237.3,152.4 238.6,151.4 239,151 240,150.8 241.7,150.9 243.2,150.2 244.7,149.8 246.4,149.9 247.9,149.6 249,149 248.8,148.5 249.1,146.9 250.2,145.6 250.6,144 250.6,142.3 251,141 250.9,140.7 251.9,139.5 252.9,138.1 253,136.4 254,135 255.1,133.8 256.4,132.8 257.2,131.4 258.5,130.4 259,130 258.9,129 259.6,127.5 260,126 260,126.2 258.4,126.1 256.8,125.6 255.2,125.5 254,125 253.5,125.1 252.3,124 251.2,122.8 250,121.8 249,120.5 248,120 248,119.5 248.2,117.9 248.5,116.3 249,115 248.7,115 248,113.5 246.6,112.6 245.7,111.2 244.9,109.8 243.9,108.6 243,108 242.7,107.5 242.4,105.9 241.6,104.5 240.6,103.1 239.9,101.7 240,101" class="rv"/>
<polyline points="170,164 168.6,164.8 167.8,166.3 166.5,167.3 166,168 166.3,168.7 167.6,169.7 168.7,170.9 169,172 169.5,171.9 170.9,170.9 172.4,170.5 174,170 175,168.7 175.7,167.3 176,166" class="rv"/>
<polyline points="170,166 170.3,167.6 171.1,169 172,170.4 173.1,171.6 173.7,173.1 174,174 173.4,174.3 172.2,175.4 171.6,177 170.4,178.1 168.8,178.7 168,180 168.1,180.4 166.5,181 165.4,182.1 163.9,182.9 162.5,183.7 161.4,184.8 160,186 159.9,187.6 159.7,189.2 159.2,190.7 159,192.3 159,193 159.8,193.5 161,194.6 162.2,195.6 163.6,196.4 164,197 163.4,197.8 161.9,198.3 160.8,199.6 159.2,200.1 158,201 157.7,201 156.9,202.3 156.5,204 155.5,205.3 155,206 154.2,206.2 153.5,207.7 151.9,208.4 151.3,210.1 150,211 149.8,210.8 149,212.4 147.5,213 146.2,213.9 145.1,215.1 143.8,216.1 143,217 142.5,216.9 141.1,217.8 140.2,219.3 138.8,220 137.7,221.3 136,222 134.9,223.1 133.8,224.3 132.6,225.4 131.1,226.1 130.2,227.5 129,228.6 128,229 127.8,229.7 126.1,230.1 125.1,231.4 123.9,232.5 122.4,233.1 121,234 120,235 119.8,235.1 119.3,236.6 118.6,238.1 117.9,239.5 117.6,241.1 117,242 116.7,242.6 116.8,244.2 117,246 117.3,247.6 117.8,249.1 118.4,250.6 119.2,252 119.8,253.5 120,254 120.4,255 121.5,256.2 122.8,257.2 123.1,259 124.6,259.9 125,261 125.3,261.3 126.3,262.6 127.6,263.6 128.3,265.1 129.3,266.3 130,267 129.6,267.6 129.6,269.2 129.6,270.8 129.2,272.4 129,274 128.2,275.4 128,277 127.4,278.5 127.7,280.3 127,281" class="rv"/>
<polyline points="217,167 216.2,168.4 216.1,170.1 215.2,171.5 214.6,172.9 214.6,174.6 214,176 213.7,176.1 213.8,177.7 213.6,179.3 213.2,180.8 212.5,182.3 212.7,184 212,185.5 212,186 212.5,187 213.2,188.4 213.6,190 214.2,191.5 214.7,193 215,194 214.9,194.7 215.5,196.1 216.7,197.4 216.7,199.1 217.7,200.4 218,201 217.1,201.5 216.2,202.9 215.5,204.3 214.7,205.7 213.3,206.7 212.3,207.9 212,209 211.5,209.3 210.6,210.6 208.9,211.2 207.7,212.2 206.4,213.2 206,214 205.2,214.1 203.9,215.2 202.8,216.4 201.8,217.6 200.5,218.6 200,219 199.1,219.1 197.5,219 195.9,219.2 194,219.5 192.6,220.4 191.6,221.7 190.4,222.7 189,223.5 188,225 187.3,226.5 186.7,228 186.5,229.6 186.6,231.2 186,232 185.9,232.7 185.7,234.3 185.4,235.9 185.1,237.5 184.8,239 184.1,240.5 184,241 183.2,241.8 182.4,243.2 181.5,244.5 181,246.1 180.7,247.7 180,248 179.7,249 178.9,250.4 177.5,251.4 177,253 175.9,254.2 175,256 173.5,256.5 171.9,256.8 170.3,257 168.8,257.6 168,258 167.4,258.5 165.7,258.3 164.2,258.9 162.5,258.7 161.1,259.6 159.5,259.9 158,260 157.7,259.7 156.4,260.7 155.1,261.6 153.3,261.6 151.8,262.1 150.5,263 149.1,263.9 148,264 147.4,264 146.2,265.2 144.9,266.1 143.6,267 141.8,267.2 141,268" class="rv"/>
<polyline points="175,256 176.3,257 177.6,257.9 179.4,258 180.4,259.5 182,260 183.3,261 185,261.1 186.2,262.4 187.6,263.1 189.3,263.3 190,264 190.3,264.7 191.9,265.1 193.2,266.1 194.5,267.1 196,268 195.1,269.4 194.4,270.8 194,272.4 193.2,273.7 192.7,275.3 192,276 191.7,276.6 190.6,277.8 189.9,279.3 188.7,280.3 188,281" class="rv"/>
<polyline points="249,150 250.3,151 251.2,152.3 252.1,153.7 253.4,154.6 254,155 254.8,155.5 256.2,156.3 257.6,157 258.5,158.6 260,159 260,159.3 261.7,159.3 263.1,160.1 264.6,160.7 266,161 266.3,161.2 267.5,160 269,159.3 270.3,158.5 272,158 273.3,157 274.7,156.2 275.8,155.1 276.7,153.7 278,153 278.1,152.8 279.3,151.7 280.7,150.9 282.1,150.2 283.3,149.1 284,149 284.3,148 284.9,146.6 286,145 287.3,144.1 288.8,143.5 289.9,142.1 291.4,141.5 292,141 292.7,140.7 294.3,140.2 295.8,139.9 297.5,139.9 299,139.6 300,139 300.6,139 302.1,138.4 303.5,137.7 304.8,136.7 306.2,136 307.8,135.6 309,135 309.3,135.2 310.8,135.7 312.3,136.1 313.9,136.4 315.4,136.9 317.1,137 318,137 318.7,137 320.3,136.6 321.7,135.9 323.3,135.7 324.9,135.3 326.3,134.5 328,134 329.4,133.2 330.8,132.5 332.3,131.9 333.8,131.2 335.2,130.4 336,130 336.5,129.6 338,129 339.4,128.1 340.8,127.4 342.2,126.6 343.1,125 344,125 344.8,124.8 346.4,124.8 348,124.4 349.6,124.2 350,124 351.1,124.3 352.5,125.1 353.7,126.2 355.2,126.8 356,127 356.5,127.7 357.9,128.6 359.3,129.4 361,130" class="rv"/>
<polyline points="285,148 286.6,147.9 288.1,148.7 289.7,149 291.4,148.8 292,149 292.7,148.4 294.1,147.6 296,147 297.6,147.4 299,148.2 300.4,148.9 302,150 302.5,151.5 303.8,152.6 304.6,154 304.8,155.7 306,157 306.9,158.4 308.5,159 309.5,160.3 310.2,161.8 311.7,162.6 312,163 313.1,163 314.7,163 316.3,162.9 317.9,162.2 319.5,162.7 320,162.5 321.1,162.5 322.6,161.7 324.1,161.1 325.7,161 327.3,160.8 328.8,160.3 330,159.5 330.1,159.2 331.8,159 333.2,158.2 334.9,158.1 336.4,157.5 337.7,156.5 339,156 339.4,155.9 339.6,154.3 339.1,152.6 339.6,151 340.3,149.5 340,149 340.6,148 341.9,147 343.1,146 344,145 344.3,144.9 345.8,145.7 347.4,145.6 348.9,146.3 350.5,146.7 352,147 351.9,146.6 353.6,146.9 355.2,146.5 356.8,146.1 358.2,145.2 360,145 361.5,144.6 363,143.8 364.7,143.8 366.2,143.3 367.8,143 369.1,141.9 370,142 370.8,141.8 372.4,141.6 374,142.4 375.6,142.1 377.2,141.7 378.8,142.2 380,142 380.4,142 382,142.2 383.5,142.8 385.1,142.9 387,143 388.1,144.1 389.4,145.1 390.5,146.3 391.6,147.5 392,148" class="rv"/>
<polyline points="260,159 261.2,160.1 262,161.5 263,162.8 264,164 264.7,165.5 264.8,167.1 265,168 265,168.8 266.2,169.9 267.1,171.2 267.8,172.7 269,174 269.7,175.5 270.4,176.9 270.6,178.5 271.8,179.8 272,181 271.5,181 270.2,181.9 269.1,183.1 268,184 267.9,184.2 267.6,185.8 266.7,187.2 265.6,188.3 264.9,189.8 264.2,191.3 264,192 264,192.9 262.9,194.2 262.1,195.6 261.6,197.1 261.2,198.7 260.8,200.2 260,202 259.1,203.3 258.3,204.7 257.5,206.1 255.8,206.9 255.3,208.5 254,210 253.2,211.4 252.2,212.7 251,213.8 250.1,215.1 249.4,216.6 248.5,217.8 248,219 247.8,219.3 247,220.7 246.2,222.1 245.5,223.6 245.3,225.2 244.3,226.5 243.5,227.9 243,229 242.6,229.2 241.5,230.3 240.6,231.7 239.9,233.2 238.8,234.4 237.6,235.5 236.7,236.8 236,238 235.9,238.2 234.8,239.3 233.5,240.3 232.5,241.5 231.2,242.6 230,243.6 229.1,245 228,246 227.9,246 226.6,247 224.9,247.2 223.5,248 222.2,248.8 220.8,249.7 220,250 219.7,250.8 218.3,251.7 217.1,252.7 215.6,253.4 214.5,254.5 214,255 213.6,255.9 213.3,257.5 213.6,259.1 213.5,260.7 213,262 212.9,262.3 213.9,263.6 214.3,265.2 215.3,266.5 216.2,267.8 216.3,269.6 217,270 217.5,270.8 218.6,272 219.8,273 220.8,274.3 222,275" class="rv"/>
<polyline points="265,167 266.2,168.1 267.8,168.5 269,169.6 270.7,170 272,171 273.4,171.7 275,172.2 276.3,173.2 277.9,173.5 279.2,174.5 280,175 280.7,175 282.3,175.3 283.6,176.4 285.1,176.9 286.8,176.7 288.3,177.6 290,178 291.5,178.6 293,179.1 294.5,179.8 295.9,180.4 297.6,180.6 298,181 298.6,181.8 299.4,183.3 299.8,184.9 301,186 300.6,186.1 301,187.6 301.6,189.2 301.5,190.8 301.7,192.4 302.4,194 301.6,195.4 301.7,197.1 301.1,198.6 300.8,200.2 300,202 299.3,203.5 298.3,204.7 297.9,206.3 297.3,207.8 296.7,209.3 296,210 296.1,210.7 294.9,212 294.3,213.5 293.8,215 293.9,216.8 293,218 293.2,218.1 293.3,219.7 293,221.3 293.3,222.9 293,224.5 293,226 293.1,226.1 293.7,227.6 294.5,229 295,230 294.8,230.4 294.3,231.9 292.7,232.9 292.3,234.5 291.1,235.6 290.7,237.2 290,238 290,238.7 288.5,239.6 288,241.2 287.4,242.7 285.9,243.7 285.1,245.1 285,246 285.1,246.8 283.8,248.1 283.9,249.8 283.4,251.3 282.8,252.8 282,254 281.6,253.9 280.5,255.1 279.3,256.2 278,257.1 277,258.4 276,259 275.7,259.5 274.2,260.1 272.7,260.5 271.1,260.8 269.8,261.8 268,262 267.2,263.4 265.9,264.5 264.9,265.7 263.8,266.8 262.6,267.9 262,268" class="rv"/>
<polyline points="301,184 302.6,183.9 304,182.9 305.7,183.1 307.2,182.3 308.7,181.8 310.3,181.6 312,181 313.5,180.3 315,180 316.6,179.8 318.1,179.2 319.8,179.2 321.3,178.6 322.8,178.2 324,178 324.4,177.7 325.9,177.3 327.6,177.4 329.2,177.2 330.6,176.4 332.3,176.5 333.8,175.7 335.4,175.8 336,175.4 337,175.5 338.4,176.2 340,176.6 341.4,177.5 342.9,177.9 344,178 344.6,177.8 346.2,178.2 347.6,179 349.2,179.2 351,180 352,181.3 352.3,183 353.1,184.3 354,185 354.5,184.5 356.1,184.3 357.7,184.6 359.4,184.7 361,184.4 362.5,184 364,183.6 364.1,183.8 365.7,183.7 367.3,183.7 368.9,184.1 370.5,183.5 372.1,184.1 374,184 375.5,184.6 377.2,184.5 378.6,185.4 380.3,185.3 382,186 383.2,187.1 384.8,187.6 386.3,188.1 387.7,188.9 389,190 390.6,190.2 392,191 392.1,190.8 393.4,191.9 394.7,192.8 396.4,192.9 397.6,194.1 399.2,194.5 400.5,195.5 402,196 402,196 403.3,197.1 404.9,197.5 406.1,198.5 407.6,199.3 409.3,199.3 410,200 410,200.8 410.8,202.2 412,203.3 412,204 411.6,204.9 411.4,206.6 411.1,208.1 410.5,209.7 410,210 410.1,211.1 409.7,212.7 410.4,214.3 409.9,215.9 410,217 410.1,217.6 411.6,218.4 412,219" class="rv"/>
<polyline points="360,250 361.3,249 362.6,248.2 364,247 365.5,246.5 367.1,246 368.6,245.7 370.1,245 371.4,243.9 372,244 372.8,243.2 374.2,242.6 375.6,241.7 377.2,241.2 378.4,240.2 380,239 381.4,238.3 382.8,237.4 384.2,236.6 385.8,236.2 387.3,235.8 388,235 388.5,234.5 390.1,234.2 391.6,233.5 393.1,233.2 394.5,232.3 396,232 395.9,231.6 397.5,231.2 398.7,230.1 400.2,229.5 401.7,228.9 402.9,227.8 404,227 404.4,227.2 405.8,226.4 406.9,225.1 408.4,224.5 410,224 411.2,225.1 412.5,226 414,226.7 415,228 416.4,228.9 417.9,229.3 419.5,229.7 420,230 420.9,229.5 422.1,228.4 423.7,227.9 424.9,226.8 426.5,226.4 427,226 427.9,225.5 428.3,223.8 429.2,222.5 430.4,221.4 431.5,220.2 432,219 431.8,218.6 432.5,217.1 433,216" class="rv"/>
<polyline points="433,216 434.1,217.4 433.1,219.3 433.7,220.8 435.1,222.1 434.7,223.8 435,225 435.5,225.3 434.7,227 434.9,228.6 436,230.1 436,232 435.3,233.5 435,235 434.8,236.7 434.1,238.1 433.6,239.6 433,241 433,241.1 431.5,242.1 431,243.7 431.2,245.6 430,246.8 429,248 428.4,247.6 427.6,249 426.8,250.4 425.7,251.5 424.6,252.7 424.2,254.5 423,255 422.6,255.3 421.2,256 419.7,256.6 417.9,256.4 416.8,257.9 415.2,258.2 414,258 413.4,258 411.9,258.7 411.1,260.3 409.2,260.5 408,262 406.3,262.2 405.4,263.9 403.4,263.6 402.5,265.3 400.9,265.6 400,266 399.7,266.9 398.3,267.6 396.4,267.5 394.9,268 394,269.7 392.4,270.1 390.7,270.4 390,271 389.3,271.2 388.2,272.5 386.4,272.5 385.4,274 383.4,273.5 382.1,274.6 380.7,275.4 380,276 379.1,275.6 377.9,277.1 376.4,277.6 374.7,277.4 373,277.4 371.5,277.8 370,279 368.3,279.2 367,280 365.6,281 363.9,280.9 362.5,281.8 360.9,282 360,283 359.5,282.7 358.1,283.6 356.5,283.8 355.1,285 353.6,285.3 351.8,285 350.3,285.6 350,286 349.1,287.1 347.5,287.3 345.8,287.4 344.2,287.6 342.8,288.4 341.3,288.8 340,289 339.5,288.4 338.2,289.6 336.6,289.9 334.8,289.6 333.5,290.9 331.9,291 330,291.5 328.4,292.1 326.8,291.1 325.2,291.3 323.6,292.3 322,292 322.2,293.6 323.2,295 322.6,296.8 323.6,298.2 324,300 324.5,301.5 323.6,303.3 324.6,304.8 324.7,306.4 325,308 323.9,309.4 324.6,311.2 324,312.7 323,314.1 323.5,315.9 323,317 322.6,317.6 323.5,318.9 323.6,320.6 324.7,321.9 324.8,323.6 326,325 326.6,326.5 327.7,327.8 328.1,329.3 328.5,330.9 329,332 328.9,332.4 329.5,333.9 330.1,335.4 330.6,336.9 330.6,338.6 331,340 330.7,339.8 329.3,340.6 328.3,342.2 327,342 326.9,342.6 325.2,343 324.1,344.2 323,345 322.7,345.3 321.1,344.9 319.5,345.7 319,345 318.8,346 317.8,347.5 318.4,349.2 318,350 318.7,350.7 318.1,352.4 318.5,353.9 319.2,355.4 319,356" class="rv"/>
<polyline points="423,255 423.4,256.6 423.7,258.2 422.7,259.8 423.4,261.4 423,263 422.8,262.9 422.6,264.7 420.5,265.2 420.1,266.8 419.7,268.5 419,269 419.5,270 417.7,271.1 417.1,272.6 417.5,274.4 417,275 418.1,275 418.5,277.1 419.8,278 421,278 420.8,278.6 420.8,280.3 419.2,281.4 419,283 418.4,283.5 420.3,284.1 421.1,285.5 422,287 420.9,288.3 420.5,289.8 419.7,291.2 419.6,292.9 419.6,294.7 419,295 417.8,295.6 417.3,297.1 416.5,298.5 416.6,300.4 416,301 415.9,301.8 414.1,302.6 413.3,304 413,306 413.4,307.7 413.2,309.3 412.8,310.8 412,312 411.6,312 410.8,313.5 409.6,314.6 408,315.2 407,316 406.4,315.4 405.3,316.9 404.2,318.2 402.7,318.8 401.1,319.3 400,319.5 399.8,320 398.8,321.3 397.7,322.5 396.3,323.2 395,324 395.5,324 395.9,325.6 396.5,327.1 396,328 396.7,328.5 397.9,329.6 399.6,329.9 401,331 402.6,331.6 403.5,333 405.1,333.7 406,335.5 407.6,336.1 408.6,337.3 409.1,339.2 411,340 412.6,340.7 413.1,342.4 414.8,343 415,344.5 415.4,344.6 415.9,346.4 417.3,347.3 418.9,347.9 420,349 420.2,348.7 421.6,349.5 422.8,350.7 424.2,351.4 425.8,351.9 426,352.5 427.4,352.5 427.9,354.4 429,355.7 431,356 431.4,357.7 433.1,358.4 434,359.5 434.2,359.6 435.5,360.7 435,362.9 436,363" class="rv"/>
<polyline points="436,363 437.7,363.1 439,361.9 440.5,361.4 442.1,361 444,361 445.6,361.3 447.2,361.4 448.8,361.6 450.4,361.2 452,361 452.1,361.2 453.5,360.5 454.9,359.6 456.3,358.9 457.5,357.8 458.9,356.9 460,357 460.8,357.2 462.2,356.5 463.8,356.2 465.2,355.4 466.6,354.6 468,354 467.9,353.6 469.7,353.6 471,352.6 472.6,352.2 474,351.4 475.4,350.7 476,350 476.7,349.7 478.1,348.9 479.1,347.6 480,347" class="rv"/>
<polyline points="436,363 434.5,363.8 433.6,365.2 432.4,366.2 432,368 431,368 430.1,368.2 428.5,368.7 427.2,369.7 425.7,370.3 424,371 422.7,372.1 421.2,372.6 419.7,373 418,373.4 417,374.5 416.8,374.5 415.6,375.6 414.5,376.8 412.8,377.2 412.5,378 413.1,378.7 414,380 413.9,381.8 414.5,383 414.4,383.3 413.8,384.8 414.2,386.5 414,388 413.7,387.9 413.4,389.6 412.6,390.9 412.4,392.6 411,394 410.5,395.5 410.4,397.2 409.6,398.6 409,400 409.3,400.2 408,401.4 407.7,403 407,404 406.7,404.3 405.2,404.9 403.6,405.2 402,406" class="rv"/>
<polyline points="322,292 320.7,293 319.3,293.8 317.6,294 316,294.5 314.6,295.5 313,295.6 311.6,296.6 309.9,296.4 308,297 306.5,296.5 304.8,296.5 303.5,295.3 301.6,296.2 300,295 298.4,294.2 296.8,295.1 295.2,295.6 293.6,295.2 292,295.1 290,295 288.8,296.3 286.9,295.8 285.4,296.4 283.9,297 283,297.5 282.4,297.8 281,298.6 280.5,300.3 279.3,301.4 277.8,302.2 278,303 276.7,302.8 275.6,304.5 274.2,305.1 272.2,304.4 270.9,305.5 270,306 269.2,306.6 267.8,305.9 266.3,305.4 264.7,304.8 263.1,304.7 262,304 261.9,304.5 260.3,305 258.7,305.4 257.5,306.6 256,307.1 256,308 255.7,309.4 254.1,310 252.2,310.3 251.3,311.7 250,313 248.8,314 247.4,314.9 245.5,314.9 244,315.4 243,317 241.5,317.6 240,318.2 238.6,319 237.2,319.8 236,321 234.6,321.7 232.8,321.8 231.5,322.7 229.8,322.9 229,324 228.5,323.4 227.1,324.7 225.5,324.7 224,325.2 222,325.4" class="rv"/>
<polyline points="331,340 331.8,341.4 333.4,342.1 334.6,343.3 335.3,344.8 336,346 335.9,346.5 337.7,346.6 338.6,348.2 340.2,348.7 342,349.5 343.4,350.3 344.7,351.3 346.1,352 347.5,352.7 348,353 348.7,353.9 350.2,354.5 351.8,354.9 353.6,354.9 354,356 354.9,355.9 356.4,356.4 357.4,358.1 358.8,358.8 360,358.5 360.7,358.7 361.7,360 363.7,359.8 364.4,361.7 366,362 366.6,361.6 366.8,363.6 368.2,364.5 369,365.9 370.5,366.5 370.1,366.3 369.5,367.9 369,369.5 367.9,370.7 367,371 366,371.2 365.2,372.6 364.9,374.5 362.9,374.9 362.5,376 363.1,376.6 362.8,378.2 361.1,379.5 360.7,381.1 361,383 361.7,384.5 361.4,386.2 362.8,387.5 363.3,389 363,390 363.2,390.8 364.9,391.4 366.2,392.3 366.5,394.3 368,395.1 369,396 368.9,396.5 370,397.7 371.4,398.5 373.1,399 374.2,400.1 375,401.5 374.7,402 376.3,402.6 377.8,403.2 378.5,404.9 379.6,406.1 381,406.5 381.5,406.1 382.7,407.3 383.9,408.5 385.9,407.9 387,409" class="rv"/>
<polyline points="325,418 325.9,419.8 327.6,417.3 328.3,419.8 330,419 330.9,419.8 330.8,421.9 332.8,421.3 334,422 335.2,422.4 336.9,421.9 337.2,423.6 337.2,426 339,425 337.8,426.4 340.6,425.3 340,427.7 342.4,426.9 342.3,428.7 343,429 343.6,429 344.9,429.1 345.6,430.3 346.1,431.9 347.2,432.3 348,432 348.9,431.9 350.3,432.1 351.6,432.5 350.3,435.9 352.2,435.5 353,436 353.3,436 354.5,436 355.9,435.1 357,435.8 358,437 360,437.7 359.7,435.2 361,434.9 362,434 363.5,435.4 364.4,433.9 365.3,432.1 367,433 368.2,431.3 369.4,431.7 370.6,431.5 372,433 373.7,433.2 374.5,434.1 374.8,435.4 375.1,436.7 376.1,437.4 376,438 376.8,438.4 377,439.7 378.5,440.2 376.8,442.7 379,443 380.2,444 378.8,445.4 379.9,446.5 379.5,447.8 381.7,448.7 380,450 378.6,451.2 379.7,451.9 383,450.9 382.9,452.5 383,454 385,453.6 385,452.3 384.8,450.9 386.2,450.3 384.4,448 386,448 386.9,448.6 386.9,446.1 388.2,446 390,446 389.7,448 392.1,447.3 392.4,448.7 393,449 392.7,449.7 393.9,450.5 393,452.2 392.9,453.5 395,454 396,454.7 397.4,454.4 397.9,456.5 399.8,455 400,456 400,454.2 402.2,456.8 402.6,454.1 403.5,453.1 405.4,454.9 406,454 406.6,452.3 407.3,455 408.4,455.7 410,453.6 410.8,456.1 412,455 412.1,455.4 413.7,454.4 414.9,454.6 416.1,454.8 416.8,456.6 418,457 418.5,458.9 420.3,457.7 421.4,458.2 422.7,458.2 423,459 423.3,459.6 424.3,460.3 426.1,459.7 427.2,460.1 428.5,460.3 428,462 428.6,462.9 429.9,462.7 431.4,461.1 432,464.3 433,463 433.8,463.4 433.5,460.6 435.8,462.1 435.6,459.4 437.5,460.2 438,460 439.5,460.8 439.8,459.2 439.6,457.1 440.4,456.2 443.3,457.9 443,456 443.1,454.1 444.4,455 445.6,454.5 446.8,455 448,455.2 449.3,456.9 450,455.6 450.6,455.3 451.6,456 452.4,457.4 453.9,456.6 455,457" class="rv"/>
<polygon points="10.8,154 35.1,140.2 60.2,124.7 82.7,110.1 96.5,104.6 96.3,102.6 96.2,100.6 96.5,99.6 97.4,99.1 99,97.6 101,97.8 102.8,98.8 102.8,98.8 103.2,100.8 103.3,102.1 103.8,101.5 105.9,101.4 107.7,100.4 109.7,100.2 111.5,99.4 113.5,98.8 115.5,98.6 117.5,98.5 119.3,97.3 121.2,96.8 122.3,96.8 122.5,97.7 123,99.7 124.1,101.4 124,101.4 123.7,103.4 122.7,105.2 123.2,107.4 122,109.1 122.1,110.1 122.6,111.1 123.4,112.9 124.1,114.8 124.5,116.8 124.6,117.6 125.1,118.7 126.9,119.8 128,121.5 129.1,122.7 129.5,122.8 131.5,122.6 133.5,122.7 135.5,122.3 137.5,122.3 139.5,122.4 141.6,122.7 142,120.7 141.9,118.7 142,116.7 142.4,114.4 144.4,114 146.3,113.4 147.9,113.1 148.1,112.8 150.2,112.4 152,111.5 152.9,110.9 153.8,111 155.6,112 157.5,112.6 159.2,113.7 161.1,114.2 163.2,114.5 164.8,115.9 165.4,115.6 167,115.8 168.8,116.7 170.5,117.7 172.6,117.8 174.4,118.8 176.4,119 178.4,120.2 178.4,122.2 178.5,124.2 178.9,126.2 178.8,128.2 179.4,130.2 181.4,130.4 183.3,131.2 185.5,131.4 187.4,130.7 189.2,130 191,129.1 191.7,128.9 192.1,130.2 193.2,131.9 194.2,132.7 194.8,132.3 196.7,131.4 198.1,129.9 200.1,129.4 200.5,128.9 201.8,128.3 203.7,127.7 205.4,126.5 206.9,125.1 208,124.7 208.8,124.5 210.8,124.6 212.8,123.8 214.8,124.1 216.8,123.7 218,123.9 218.3,123.1 219.8,121.7 221.7,120.9 222.8,119.1 224.3,117.8 225.9,116.6 227.7,115.6 228.7,113.7 230.4,112.6 231.8,111.4 231.9,111.3 233.3,109.8 234.3,108 235.4,106.4 236,104.4 237.1,102.8 238.1,101.4 237.8,101.1 237.5,99.1 236.3,97.1 238.3,97.5 240.3,96.5 242.3,96.5 244.3,96.4 246.3,96.3 248.3,96.5 250.3,96.5 251.9,96.3 252.3,96.5 253.1,98.8 255,98.1 257.1,98.2 259,98 261.1,97.9 263.2,97.6 264,95.7 264.1,93.7 264.3,91.7 264.4,91.3 263.4,90.1 262,88.6 260.1,87.7 259.4,86.3 259.8,85.8 259.7,83.8 259.8,81.8 259.7,79.8 259.4,78.8 260.3,78.3 262.2,77.6 263.9,76.6 266,76.4 267.7,75.2 269.4,75 269.7,74.5 271.7,74.4 273.6,74.1 275.6,74 277.6,73.4 278.2,73.8 279.2,74.9 279.8,76.9 280.2,78.8 280.6,78.9 280.1,80.9 280.2,82.9 279.4,85.1 281.4,85.1 283.3,84.4 285.2,83.5 285.7,83.8 287.3,83.7 289.3,83.9 291.3,84.1 293.3,84 295.2,84.9 295.7,84.6 296.5,83.2 296.5,80.8 298.1,79.6 299.7,78.3 300.4,77.8 300.8,76.7 302.1,75.2 303.6,74 303.6,73.8 304.8,72.2 306.5,71.1 307.4,69.6 307.5,69.2 309.3,68.3 310.5,68.3 311.2,69 313.3,69.3 315.3,69.5 316.2,70.2 316.5,71.1 317.7,72.7 317.5,73.4 319,73.6 319.7,73.7 319.1,74.9 319.1,76.9 319.3,78.4 318.9,78.8 317.8,80.9 318.2,82.9 318.2,84.9 318.1,85.3 319.5,86.2 320,87.2 320.8,87.7 323.1,87.9 325,87.4 325.7,87.2 326,85.7 326.9,86.9 326.9,87.5 328.4,88.9 328.8,89.8 329.5,90.6 330.1,92.3 330.4,92.5 332,91.7 332.5,91.8 333.4,90 333.9,88.5 334.5,88.3 335.7,86.8 336.9,85.2 337,84.7 338.1,83.5 339.8,82.5 340.2,82.2 340.7,80.7 341.7,79 341.2,79 341,77.1 341.4,75.9 341.8,75.1 343,73.5 343.9,72.7 344.7,72.6 345.8,72.1 345.6,73 346.5,74.6 346.7,74.6 348.6,75.5 350.6,75.9 351.5,75.6 351.5,76.8 352.8,78.5 353.4,80.3 353.7,80.2 354.6,82 355.3,84.1 354.6,86 353.6,87.7 352.8,88.5 352.3,89.3 351.3,91 350.9,92.9 350.7,93.2 352.2,94.6 353.3,96.3 354.4,98 356.2,99.1 356.4,100.1 356.9,101.1 357.8,102.9 359,104.5 360.1,106.1 361.4,107.6 361.5,107.6 363.5,107.6 365.4,108.5 367.4,108.3 369.3,109.1 370.2,108.9 370.7,110.1 372.5,111.1 373.9,112.6 373.6,114.6 372.7,116.4 372.6,118.5 372.7,118.9 374.3,118.8 376.3,119.1 378.3,119.5 380.2,120.2 382.2,120.1 384.1,119.4 385.9,118.2 387.7,118.1 387.9,118.4 389.9,118.8 391.9,118.6 393.9,118.5 395.9,118.9 396.5,118.9 397.5,117.9 399.1,116.7 401.3,116.5 402.8,115.1 404.5,114 406.4,113.3 407.8,111.9 407.9,111.9 409.5,113.2 411.5,113.9 412.4,115.7 414.1,117 415.2,118.6 416,120.2 416.2,120.4 416.4,122.4 416.2,124.5 416.7,126.4 416.5,127.7 417.2,128 419.1,128.7 420.4,130.4 422.4,130.9 424.1,132 425.3,132.7 425.8,133.1 427.4,134.4 429.3,135 430.8,136.4 431.6,136.4 432.9,136.4 434.9,136.4 436.9,136.4 438.9,135.9 440.9,136.3 442.9,136.1 444.1,136.4 445,136.8 445.5,138.8 447.2,140.1 447.9,141.5 448.3,141.4 450.3,141.1 452.2,140.4 452.9,140.2 453.8,141.1 454.8,142.9 456,144.5 456.6,145.2 455.6,145.6 454.5,147.4 452.6,148.3 451.3,149.8 450.4,150.2 450.9,151.2 450.9,153.3 451.6,155.2 450.2,156.6 448.8,158 447.9,159 447.6,159.7 447.5,161.7 448,163.7 447.9,165.3 447.6,165.5 446.4,167.2 445.2,168.8 444.1,170.3 443.9,170.5 444.6,172.4 444.9,174.3 445.4,176.5 444.4,178.2 443,179.7 442.1,181.5 441.6,182.8 441.4,183.5 442,185.5 442.9,187 442.9,187.3 441.4,188.7 439.8,190 438.6,191.6 437.9,193.5 436.6,194.5 436.8,195 435.9,196.8 435.3,198.3 435.3,198.9 433.8,200.2 432.5,201.7 430.6,202.7 430.3,203.3 429.8,204.6 429.3,206.5 429.6,208.6 429.1,209.6 429.4,210.5 430.5,212.2 431.9,213.7 432.8,215.8 434.3,217.2 435.9,218.4 436.6,218.3 436.7,219.8 435.6,221.6 435.9,223.7 435.5,225.7 435.3,227.1 435.9,227.6 437.9,227.4 439.9,226.8 441.6,227.1 441.7,226.9 443.2,225.5 444.5,224 445.4,223.3 446.3,223.6 447.8,224.9 449.2,226.4 450.4,227.1 450.9,226.5 453,226.6 454.9,226.1 456.6,225.8 457,225.4 458.9,226.1 460.8,226.8 462.9,227.1 464.9,227 466.9,226.3 468.9,227.1 470.9,226.7 472.9,226.3 474.7,227.3 476.9,227 478.7,227.7 480.5,228.4 480.9,228.2 481.5,230.3 483.1,231.6 484.2,233.4 486.2,233.3 488.2,233.9 490.1,234.6 492.1,234.8 493,234.6 493.7,235.5 494.7,237.2 494.9,239.4 496.1,241 496.9,242.8 498,244.6 499.3,246.1 500.4,247.9 500.8,249.9 502,251.5 503,253.4 505,253.2 506.9,254.3 508.9,254.2 510.9,254.6 513,254.1 514.3,254.7 513.8,255.2 514.2,257.4 513,259.2 513,260.9 512.8,261.1 511.5,262.6 509.9,263.9 508.3,265.1 507.3,267 506,268.5 504.3,269.7 503.8,271.6 503.5,273.6 503,274.7 503.9,275 505.2,276.5 506.7,277.8 508,279.3 509.3,281 511.3,280.8 513.3,280.8 515.3,281.3 517.3,280.8 519.3,281 520.6,281 521.3,281.3 522.6,282.8 524.3,284 525.6,286 526.3,287.9 527,289.8 526.8,291 527.2,291.8 528.8,293.1 530.5,294.2 530.6,294.8 530.4,296.3 529.7,298.2 530.3,300.3 529.3,302.2 529.4,304.2 529.3,304.8 529.5,306.2 529.4,308.2 530,310 530.2,310.1 531.3,311.7 532.5,313.3 533.5,315.1 535.1,316.3 535.2,316.4 533.7,317.8 532.7,319.6 531.8,321.3 531.7,321.2 529.7,321.4 527.7,321.5 525.7,321.7 523.7,321.7 523.1,321.3 522.6,322.6 520.8,323.8 519.9,325.6 518.7,327.2 518,327.6 518.2,328.9 517,330.7 516.6,332.7 516.8,333.8 515.9,334.1 514.3,335.3 512.5,336.2 510.7,337.1 508.8,337.8 506.8,338.8 506.4,340.8 505.4,342.5 504.8,344.5 504.3,345.1 504.6,346.4 505.7,348.1 506.8,348.9 506.3,349.3 505.1,351 503.2,351.9 501.8,353.9 501.5,355.9 500.9,357.8 500.5,358.9 499.9,359.6 497.8,359.9 497,360 496.5,358.9 495.8,357.1 495.5,356.4 494.6,355.5 493.7,353.7 493,352.6 492.4,353.2 490.4,353.4 488.5,354 486.7,353.9 486.4,353.8 484.8,352.6 483.4,351.2 483,350.1 482.1,350.6 480.3,351.3 478.2,351.6 476.4,352.3 475.4,352.6 475,353.5 474.8,355.5 474.4,357.5 473.9,359.4 474.2,360.2 473.2,361.1 471.7,362.3 469.7,363 468.6,364.9 466.6,365.6 465.1,366.9 464.2,367.7 464.3,368.6 462.6,370 461.7,371.8 461,373.7 460.4,375.2 460.3,375.6 460.7,377.6 461.9,379.3 461.7,380.2 460.9,381.1 459.7,382.7 458.2,384 456.9,385.6 456.6,386.5 456.5,387.6 457,389.6 457.1,391.6 457.6,393.5 457.9,394 456.6,394.8 455.3,396.4 453.9,397.8 452.3,399 450.4,400 450.5,402 450.8,404 450.4,406.3 448.9,407.7 447.9,409.4 446.6,410.9 445.4,412.6 446.7,414.1 448.1,415.6 449.7,416.8 450.4,417.6 450.3,418.6 448.5,419.9 447.5,421.6 446.6,423.4 445.4,425.1 445.8,427.1 446.1,429 447,430.9 446.7,431.4 447.9,432.4 449.9,433 451.7,433.9 452.9,435.1 453.3,435.3 453.9,437.3 455.3,438.7 455.8,440.7 456.6,442.6 457.9,443.9 458,444.1 458.6,446 459,448 459.2,448.9 460.2,449.3 462.1,449.8 464.1,450 465.5,450.2 465.4,450.8 465.9,452.8 465.9,454.8 465.5,456.4 465.9,456.6 466.5,458.6 467.9,460.1 468.7,462 469.2,462.7 468.9,463.9 467.7,465.5 466.3,467 465.5,467.7 465.5,468.6 465.9,470.6 466.2,472.5 466.7,474 466.5,474.5 464.9,475.7 463.6,477.2 463,477.7 463.3,478.9 464.1,480.8 464.2,482.8 464,482.5 462.8,484.2 460.7,484.8 459.2,486.5 457.6,485.2 455.4,485.1 454.2,484 453.9,484.2 452,485 450.2,485.9 448.7,487.4 447.9,487.8 446.8,487.8 444.8,487.6 443,486.5 440.9,486.9 440.4,486.5 439.2,487.3 437.9,488.9 436.1,489.8 435.4,490.3 434.2,490.1 432.4,491.4 430.4,491.5 430.1,491.3 429.3,493.2 427.9,494.6 427.9,495.3 426.5,494.8 424.4,494.9 422.6,493.8 421.6,494 420.6,494.4 419,495.6 417.1,496.3 415.3,496.5 415.1,496.6 413.1,497.2 411.3,497.9 409.1,498.3 408.3,496.4 408,494.4 407.8,492.8 407.9,492.4 409.7,491.4 410.5,489.4 411.6,489 410.8,488.4 409,487.6 406.8,487.5 405.3,486.5 405.7,486.2 405.2,484.3 405,482.3 404.1,480.4 404.1,479 403.6,478.7 402.2,477.3 401.2,475.4 399.4,474.3 399,474 397.6,473.7 395.7,473 393.8,472.5 391.8,472.1 391.5,471.5 390.1,472.2 388,472 386.5,472.7 386.2,472.4 386.2,470.3 385.3,469 385.6,468.5 387.2,467.3 388.9,466.3 390.3,465.2 389.9,465.2 388.6,463.7 387.6,461.9 386.2,460.5 385.3,460.2 384.6,459.2 382.9,458.2 381.4,456.7 380.3,456.4 379.3,456.1 377.5,456.9 375.5,457.2 374,457.7 373.4,457.9 371.9,456.4 370,455.7 368.4,454.6 366.5,453.9 366.5,453.7 364.5,453.6 362.5,453.4 361.5,452.7 361.7,451.7 360.4,450 360.2,447.7 358.9,446.2 357.6,444.7 356.3,443.1 355.2,441.4 353.4,440.5 351.6,439.7 349.4,439.7 347.7,438.9 347.7,438.7 345.8,437.9 344.3,436.6 342.6,435.6 340.8,434.7 340.2,433.9 339.4,434.7 337.6,435.5 335.5,435.8 335.1,436.4 333.7,436.4 331.7,436.7 329.7,436 327.7,435.9 325.7,436.5 323.9,436.4 323.5,436.3 322.8,434.5 322,432.6 321.5,430.7 321.4,430.1 321.9,428.7 323.2,427.2 324.4,425.6 325.1,425.1 324.5,424.1 323.6,422.2 322.6,421.4 323.3,421.1 324.6,419.6 326.1,418.3 326.8,417.8 326.8,416.6 326.7,414.6 326.6,412.6 326.8,411.5 325.9,411.1 324.8,409.4 324,407.4 322.1,406.4 321.1,404.6 320.6,404 319.9,403 318.8,401.3 317.1,400.2 315.8,398.7 314.5,397.1 314.3,396.5 314.9,395.3 315.9,393.5 317.4,392 318.2,390.3 319.3,388.5 319.3,387.7 318.6,386.5 318.3,384.6 318.6,382.5 318,380.2 319,378.4 319.3,376.4 320,374.6 320.6,372.7 320.2,372.4 321.7,371 323.3,369.6 324.4,367.9 325.5,366.3 326.8,364.7 326.8,363.9 326.3,362.7 325.7,360.8 325.6,358.9 325.4,359.2 323.5,358.5 321.5,358 319.6,357.4 318,357.6 317.5,357.7 316,359 314.4,360.2 313,361.7 311.8,362.7 311.5,363 310.4,364.7 308.5,365.6 307.4,367.4 305.5,368.3 304.3,369.9 303,371.4 303.1,371.5 302.3,373.3 301.1,375 299.8,376.5 299.2,377.7 299.1,378.4 299.8,380.3 300.1,382.3 299.8,384.4 299.9,386.4 300.3,388.3 300.7,390.3 300.5,391.5 299.7,391.6 297.9,392.7 295.9,392.8 293.9,393.2 291.8,393.2 290,394 288,394.2 286.1,395.1 285.5,395.2 284.6,396.2 283,397.4 280.9,398.1 279.5,399.5 278.1,401 276.7,402.4 275.4,402.8 274.7,402.9 272.7,403 270.7,403.5 268.8,404 266.7,404 264.8,403.4 262.9,402.7 260.8,403 258.8,402.7 256.9,402 255.4,401.5 255,401.4 253.2,400.6 251.1,400.4 249.4,399.2 247.5,398.6 245.5,398.2 244.1,397.7 243.7,398.1 241.6,397.8 239.7,398.8 237.7,398.7 235.8,399.7 233.9,400.1 231.6,400.3 230.6,398.6 229,397.3 228.2,395.3 226.6,394 226,392.1 225,390.3 224.4,388.4 224.1,386.5 224.1,386.4 225.5,384.9 226.9,383.5 227.8,381.5 229.2,380 231,379.1 232.5,377.8 234.6,377.2 235.7,375.4 236.6,375.2 235.8,374.2 235.2,372.3 234.8,370.3 234.7,368.3 234,366.4 233.3,364.5 232.8,363.9 231.7,363.1 229.7,362.7 227.7,362.8 225.7,362.4 223.9,361.2 222.8,361.4 223.5,360.7 223.9,358.6 225.5,357.2 226.3,355.4 226.6,355.1 226.2,353.6 225.8,351.6 225.3,349.6 225.3,347.6 226.4,345.8 228,344.6 229.4,343.3 230.3,342.6 231.2,342.1 231.6,340 233.4,338.8 233.9,336.7 235.3,335.1 234,333.6 233.2,331.7 231.6,330.1 229.8,331.1 228.5,332.6 227.2,334.2 225.3,335.1 224.6,333.2 223.9,331.3 223.8,329.3 222.8,327.6 222.5,327.8 221.1,326.4 219.8,324.8 217.8,323.8 216,322.8 214.7,321.2 213.5,319.6 212,318.3 210,317.5 208.5,316.2 207.8,315 207.2,315.5 205.1,315 203.2,316 201.2,315.9 200.3,316.3 199.2,316.3 197.5,317.5 195.6,318.3 193.5,318.4 191.8,319.4 190.2,320.1 189.8,320.2 188.3,318.9 186.3,318.3 184.5,317.4 182.6,316.8 181.2,315.2 180.2,315 179.1,314.7 177.2,315.3 175.1,315.3 173.3,316.5 171.4,316.3 171.5,316.6 170.2,318.1 168.8,319.5 167.7,321.2 167.1,323.2 165.7,325.1 164.5,323.5 163.7,321.7 162.7,319.9 162.1,317.9 161.4,317.5 160.7,316.4 160.7,314.3 160,312.4 159.4,310.5 158.9,310 159.5,308.8 159.9,306.8 160.4,304.8 160,302.8 159.7,300.9 159.5,298.9 159.6,296.8 159.1,294.8 157.6,293.4 156.6,291.6 156,289.7 154.5,288.3 154.1,287.3 153,287.2 151.3,286.1 149.9,284.6 147.9,283.5 145.9,283.7 143.9,283 141.9,283.1 139.9,283 137.8,283.5 137.1,281.6 136.5,279.7 136.6,278.5 136,279.2 133.9,279.6 132,280.1 130.3,281 130.2,281.1 128.4,281.9 126.5,282.4 124.5,282.8 122.8,283.5 122.7,283.3 120.9,282.5 119,281.6 117.1,281.1 116.5,281 115.3,280.2 114.6,278.2 112.9,277 111.8,275.3 110.3,273.5 109.6,271.6 109.4,269.6 108.4,267.8 107.9,265.9 107.8,264.7 107.3,263.9 106.7,262 106.9,259.9 106.1,258.1 105.3,256.2 104.8,254.3 104.9,252.2 104,250.9 104.1,250.4 104.1,248.3 105,246.5 105.1,244.5 105.3,242.1 104.5,240.2 102.6,239.2 101.5,237.1 100.2,235.6 99.2,233.8 98,232.2 96.5,230.9 96.9,230.7 95.3,229.2 94.7,227.3 93.7,225.5 93,223.7 92.9,221.5 91.5,219.6 89.5,220 87.5,220.1 86.5,220.8 85.7,221.2 83.7,221.2 81.8,222.2 80,222.9 77.7,223.3 75.8,223.8 73.9,224.5 72.3,226 70.3,226.4 68.9,227.1 68.5,227.3 67.2,228.9 65.6,230 64.2,231.5 62.6,232.7 61.4,233.4 61.3,234.1 59.9,235.6 58.9,237.3 58.2,239.2 57.6,239.6 56.2,239.1 54.9,237.6 53.5,236.1 51.7,235.2 51.4,234.6 50,234.6 48,234.4 46.1,233.5 43.9,233.4 42.9,231.7 41.4,230.2 40.4,228.5 39.6,226.7 38.7,224.9 37.6,223.3 37.7,223.1 36,221.8 34.9,220.2 34.2,218.2 32.8,216.8 31.5,215.2 31.3,214.6 30,214.2 28.4,212.8 26.3,212.6 24.6,211.6 22.6,210.8 21.2,209.4 19.9,207.9 18.9,206.1 17.7,204.5 17,204.5 17.2,202.9 17.4,200.9 18.4,199.1 18.2,197 18.8,195.8 18,195.4 17.8,193.3 16.3,191.4 17.1,189.6 18.4,188 18.9,186 20.2,184.4 20.7,182.4 21.3,181.4 20.5,180.9 19.2,179.4 18.4,177.5 17.3,175.9 16.3,174.1 14.5,173 13.8,171.4 13.9,171.1 13.3,169.1 13.2,167.1 12.5,165.2 12.4,163.2 12.5,162.6 12.2,161.2 12.3,159.2 11.1,157.4 11.1,155.3" class="ol"/>
<polygon points="329.1,80.9 333.2,78.5 335.1,79.7 333.9,84.1 332,85.3 329.4,83.8" fill="#2a2a2a" stroke="#2a2a2a" stroke-width="0.8" stroke-linejoin="round"/>
<polygon points="309.6,84.7 316.8,84.4 319.7,86.9 316.8,88.5 312.4,89.4 310.2,88.5 309.6,86.3" fill="#fff" stroke="#222" stroke-width="1.5" stroke-linejoin="round"/>
<circle cx="498" cy="358.6" r="2" fill="none" stroke="#222" stroke-width="1.4"/>
</g>
<g id="logo" fill="#0a5cf5">
<path d="M7,5 L19.5,5 C24,8 28.5,14 29,22 C29.5,30 28.5,36 25,41 C22.5,45 21.3,48 21,53.5 L7,53.5 Z"/>
<path d="M56,8 C50,9.5 45.5,14 43,19.5 C41.3,23.5 41.7,28 39.5,32 C36,38 29,43 25.5,49 C24.6,50.5 24.2,52 24.2,53.5 L56,53.5 Z"/>
<text x="4.8" y="70.5" font-family="Liberation Sans, sans-serif" font-size="20.6" textLength="53.6" lengthAdjust="spacingAndGlyphs">KMI</text>
</g>
</defs>
<rect width="1280" height="507" fill="#fff"/>
<g clip-path="url(#be)">
<rect x="0" y="60" width="545" height="447" fill="#f46d43"/>
<polygon points="122.4,118 122,100 218,100 218,124.4 222,129 230,133 240,134.4 249,137 258,142 266,149 272,154 280,159 288,161 294,159 299,153 303,149 312,143 320,138 328,129 338,120 348,115.6 358,115.6 366,120 371,124 373,128 377,138 380,147 384,157 388,166 392,174 398,184 400,196 400,208 398,216 394,224 388,230 380,233 370,235 360,238 354,241 349,240 344,244 336,245.6 324,242 315,236 308,237 298,239 286,240 276,239 269,234 273,227 277,218 279.6,208 278.4,200 275.6,198 273,206 271,214 266,219 258,224 254,230 250,238 246,240 238,246 226,248 210,250 198,249 190,252 182,257 176,258 169,255 167,244 166,236 170,230 173,224 169,218 160,217 152,219 140,219 138,216 135,208 132,198 128,192.6 131,184 132,178 131,170 128,160 125,154 120,146 113,138 112.4,129 117,122" fill="#d73027"/>
<polygon points="388,119 390,130 397,137 402,142 410,148 420,151 430,154 437,158 438,170 436,182 432,192 430,200 428,210 431,218 429,221 427,229 426,235 427,243 423,249 415,253 414,257 420,260 425,258 430,250 434,243 440,237 443,230 437,229 437,222 470,222 470,105 388,105" fill="#d73027"/>
<polygon points="117,277 122,271 129,266 136,271 146,275 156,280 166,286 178,289 192,291 206,292 220,293 223,298 222,304 214,306 211,312 210,318 200,324 160,328 150,300 140,292 118,292 105,280" fill="#d73027"/>
<polygon points="122,236 130,229 138,227 144,230 148,236 140,240 130,238" fill="#d73027"/>
<polygon points="264,302 270,300.5 277,301 278,303.5 270,304.5" fill="#d73027"/>
<polygon points="367,273 374,271.5 382,272.5 381,275 372,275.5" fill="#d73027"/>
<polygon points="322,293 328,291.5 329.5,294 325,297 322.5,296" fill="#d73027"/>
<polygon points="172.4,178 178,175 188,177 192.4,184 193,194 190,202 182,204.4 178,198 174,188" fill="#f46d43"/>
<polygon points="139,196.4 142.4,197 144,204 143,210 140,209 137.6,202" fill="#f46d43"/>
<polygon points="160,324 166,312 170,306 178,300 188,297 196,298 198,306 199,318 199,326" fill="#f46d43"/>
<polygon points="221,176 225,168 232,164 242,162 252,163 260,168 264,174 264,182 260,189 252,193 243,193.6 235,191 229,185 226,180" fill="#a50026"/>
<polygon points="219,206 226,202.4 240,201 250,199 251,208 248,216 243,223 239,226 237,225 235,215 230,211 222,208" fill="#a50026"/>
<polygon points="293,202 295,196 300,191 304,190 309,196 313,204 314,210 311,216 304,220 296,220 293,214" fill="#a50026"/>
<polygon points="357,186 360,182 370,178 376,179 383,187 380,193 374,198 367,203 364,210 358,215 350,217 342,215.6 349,210 353,202 358,195" fill="#a50026"/>
<polygon points="92.4,100 91.6,167 80,168.6 66,171 54,173 40,176 30,178 21,181.6 5,185 5,150" fill="#fdae61"/>
<polygon points="84,177 93,168 93.6,179.6" fill="#fdae61"/>
<polygon points="260,86.6 268,89 274,97 276.4,100.4 270,103.6 260,103 258,101.6 255,97 256,85" fill="#fdae61"/>
<polygon points="283,272 287,264 294,257 302,254 310,256 318,262 323,270 327,274 320,278 312,281 305,285 298,282 290,278" fill="#fdae61"/>
<polygon points="286,316 276,320 270,321 266,326 269,332 266,338 258,341.6 249,343 242,348 239,356 240,364 244,370 240,373 235,376 220,382 222,400 266,410 304,396 304,376 316,350 316,340 313,330 314,322 316,312 315,303 306,305 294,308 288,315" fill="#fdae61"/>
<polygon points="455,228 451,235 448,241 444,247 439,251 438,257 446,258 456,257 463,256 463,263 458,267 454,273 448,275 438,271 430,272 414,273 408,270 398,273 388,277 380,282 374,286 366,289 360,293 352,299 344,304 336,310 332,318 325,330 318,350 310,362 305,385 305,445 400,510 480,505 545,320 545,230 455,220" fill="#fdae61"/>
<polygon points="316,300 334,300 336,310 332,318 331,328 330,336 331,342 338,349 350,355 361,363 361,365 350,364.4 340,363 332,360 326,359 318,357.6 310,364 300,371 292,374 280,379 270,380 260,380 252,378 254,370 262,366 270,361 278,357 288,355 300,350 312,346 316,340 313,330 314,322 316,312 315,303" fill="#f46d43"/>
<polygon points="408,270 414,273 415,284 418,292 412,298 408,306 400,313 392,318 386,324 384,331 386,334 391,336.5 396,337.5 401,334 405,330 408,322 412,316 414,311 418,305 423,297 427,289 428,279 430,272" fill="#f46d43"/>
<polygon points="320,348 328,345 338,350 340,355 334,359 324,357.6 320,356" fill="#fdae61"/>
<polygon points="30,145.6 40,148 52,150.6 62,148 70,141 73.6,130 73,120 73,110 55,112 25,135" fill="#fee090"/>
<polygon points="349,336 352,330 358,326 360,318 364,311.5 377,312.5 381,317 378,326 375,332 372,340 368,348 360,347 353,344 349,340" fill="#fee090"/>
<polygon points="243,399 248,393 256,391 266,389 276,387 286,385 294,387 300,391 300,410 240,410" fill="#fee090"/>
<polygon points="484,236 483,245 480,253 476,259 471,264 466,270 464,275 458,280 450,284 444,290 440,295 436,299 430,304 425,307 422,311 422,316 419,322 414,330 411,338 406,344 394,348 384,354 378,360 372,367 366,370 352,371.5 338,375 328,379 320,383 305,385 305,445 400,510 480,505 545,320 545,240 490,225" fill="#fee090"/>
<polygon points="494,239 490,247 486,254 481,260 476,266 471,273 468,278 462,283 454,287 447,291 444,297 440,302 434,306 430,311 428,318 425,326 421,335 417,343 410,348 400,350 392,355 385,361 380,368 377,371 366,375 352,378 340,382.5 330,387 320,391 312,396 305,400 312,410 322,410 340,410 345,418 344,428 350,434 358,436 362,440 370,446 376,452 384,458 388,464 394,471 404,476.5 415.3,474 428,476.5 440.4,480 453,479 461.7,475 462,466 462,458 460,450 453,446 450,436 470,430 545,320 545,240 500,230" fill="#ffffbf"/>
<polygon points="324,418 330,412 338,413 342,420 340,427 334,429 324,424 318,421" fill="#fdae61"/>
<polygon points="452,444 456,445 456,449 452,448" fill="#fdae61"/>
<polygon points="498,245 494,252 489,258 484,263 480,269 476,275 472,281 468,287 460,290 451,292 447,295 450,299 460,300 466,304 468,309 464,313 456,314 448,314 442,318 432,320 426,324 422.5,328 421,335 422.5,342.5 429,351 435,357.5 436,362 432.5,365.6 430,366 424,360 417.5,354 410,353 402.5,355 392.5,355.6 385,361 380,370 376,381 371,387 368,393 369,398 372,402 367,407 364.5,412 366,418 374,423 380,430 386,436 394,440 406,445 418,449 430,451 438,448 444,442 448,436 450,434 470,420 545,330 545,245" fill="#e0f3f8"/>
<polygon points="500,249 496,255 491,260 486,265 482,271 478,276 474,281 470,286 467,290 462,292.6 465,295 473,296 480,298 483,302 483,306 480,309 475,311 471,314 470,318 470,324 460,326 450,326 439,328 430,334 425,341 430,346 439,350 450,352 460,349.4 467.5,350 475,350 470,354 464,359 462,364 466,368 480,375 545,330 545,250" fill="#abd9e9"/>
<polygon points="463,368 460,366 455,369 447.5,372 441,374 435,377.5 430,379.5 422.5,380 416,379 412,375 408,369 407,366 402.5,362 396,364 390,370 386,378 388,388 384,394 382,402 386,410 394,415 402,420 408,426 414,432 422,435 430,436 436,432 437,426 431,420 434,414 439,409 445,408 460,405 470,380" fill="#abd9e9"/>
<polygon points="501,252 498,258 492,263 487,268 483,274 479,278 476,283 480,288 485,291 488,295 490,301 496,306 502,311 503,315 500,319 496,321 489,319 484,323 485,325.5 492,324.5 498,323 504,325 510,327 514.5,330 525,332 545,325 545,255" fill="#74add1"/>
<polygon points="432,342.5 439,331 442.5,334 450,337 460,342 455,344.5 445,344.5 436,344.5" fill="#74add1"/>
<polygon points="477.5,329 480,327 482,329 481.5,334 479,337 477.5,334" fill="#74add1"/>
<polygon points="392,380 401,371 405,375 405,384 402,390" fill="#74add1"/>
<polygon points="502,271 496,271 489,275 484,280 482,283.5 487,287 493,288.5 498,288 501,293 504,300 509,306 514.5,312 519.5,315 523.5,317 528.5,318 534,317 545,315 545,270" fill="#4575b4"/>
<polygon points="520.5,298 521.5,295 524.5,292.6 528.5,292 531,296 530,301 525.5,305.6 522.5,303.6" fill="#313695"/>
</g>
<use href="#ovl"/>
<g transform="translate(640,0)">
<g clip-path="url(#be)">
<rect x="0" y="60" width="545" height="447" fill="#f88d52"/>
<polygon points="92,107 98,116 104,124 112,131 120,134 123,137 126,148 125,158 126,174 130,182 138,185 146,186 152,192 158,200 161,210 170,209 172,202 170,190 167,182 168,174 174,167 180,161 190,154 198,146 203,140 204,130 204,100 92,90" fill="#de3f2e"/>
<polygon points="222,176 226,170 232,165 240,160 248,157 258,158 266,164 271,172 273,178 275,184 278,191 284,198 288,198 296,194 304,188 312,184 322,180 332,176 344,173 356,173 366,177 376,182 381,190 381,198 378,208 376,216 376,224 380,228 388,229 398,226 408,224 420,221 428,218 433,216 440,210 484,222 483,235 484,245 485,255 488,265 491,274 490,283 482,286 474,289 466,294 458,297 448,301 444,307 443,316 442,324 446,332 452,340 450,345 444,350 438,353 430,352 422,347 416,340 412,332 410,324 410,317 407,316 400,318 396,323 392,326 384,329 374,329 364,325 356,320 346,318 338,317 326,315 322,318 320,326 319,340 318,350 318,357 312,365 300,375 303,395 270,412 225,407 213,380 219,340 213,322 190,318 196,314 204,311 214,306 222,300 228,293 236,285 246,278 258,275 270,274 282,274 294,271 306,267 314,262 316,254 312,246 303,238 298,230 295,222 290,218 284,219 276,223 266,228 258,230 250,229 242,225 234,219 224,214 212,212 198,212 189,210 189,205 194,197 200,193 216,193 220,186" fill="#de3f2e"/>
<polygon points="440,149 448,142 455,141 458,146 454,152 449,157 445,155" fill="#de3f2e"/>
<polygon points="157,228 159,220 162,217 170,222 171,225 166,227 163,234 162.4,244 161,244 160,232" fill="#de3f2e"/>
<polygon points="391,340 396,339.6 403,341.6 402,345 394,343.6" fill="#de3f2e"/>
<polygon points="400,357 406,358 422,359 421,362 408,363 402,373 400,370" fill="#de3f2e"/>
<polygon points="318,384 326,386 332,390 338,397 346,407 354,418 355,421 348,420 341,414 335,413 328,415 323,418 310,415 310,385" fill="#de3f2e"/>
<polygon points="324,422 330,423 338,427 340,432 334,435.6 323,437 316,430" fill="#de3f2e"/>
<polygon points="304,289 309,283.5 314,279.5 320,284.5 328,287 330,294 326.5,300 320,300.5 312,297 305,293.5" fill="#f88d52"/>
<polygon points="410,256.5 415.5,253 421,254 423,259 420,264.5 415.5,261.5" fill="#f88d52"/>
<polygon points="284,369 289,363 298,359 308,355 318,351 322,357 310,364 302,372 299,375 292,373" fill="#f88d52"/>
<polygon points="359,301.5 363,296 371,296 376,301 380,306.5 379,312.5 373.5,312.5 367,307.5 362,305" fill="#a50026"/>
<polygon points="446,254 448,249 453,248.6 460,251 462,255 461,260 456,259.4 450,258" fill="#a50026"/>
<polygon points="12,153 24,154 30,150 36,145 34,140 20,140 8,152" fill="#fed384"/>
<polygon points="38,141 47,139 54,133 64,130 76,131 86,136 92,144 97,152 104,159 109,168 109,176 106,186 104,193 92,194 86,189 80,184 77,178 76,168 68,164 60,159 51,152 41,147" fill="#fed384"/>
<polygon points="234,110 242,112 252,113 264,113 276,114 284,111 289,104 290,96 286,89 280,85 279,74 255,68 228,95" fill="#fed384"/>
<polygon points="28,212 36,211 42,215 46,222 45,229 35,230 22,215" fill="#fed384"/>
<polygon points="162,294 170,289 180,286.6 188,289.6 192,293 188,299 180,302.4 170,301" fill="#fed384"/>
<polygon points="467,320 474,318 480,321 479,327 474,330 470,334 467,330" fill="#fed384"/>
<polygon points="483,328 490,322 497,313 502,320 510,325 517,328 524,335 505,362 496,353 490,350 485,344 484,336" fill="#fed384"/>
<polygon points="333,361 336,352 342,344.5 351,341 362,340.5 373,343 381,348.5 386.5,356 388,365 385,374 384,382 384,390 379,389.5 372,387.5 366,388.5 360,384 353,378 345,374.5 337,369" fill="#fed384"/>
<polygon points="370,456 378,451 386,445 390,438 394,432 404,429 414,425 424,421 433,419 439,422 441,428 440,438 438,448 437,458 437,467 448,466 458,468 464,472 478,480 470,510 400,510 378,478" fill="#fed384"/>
<polygon points="347,361 352,354 360,349.6 370,349.8 377,355 378.5,362 374.5,368.5 366,371 357.5,369.5 350,366" fill="#ffffbf"/>
<ellipse cx="397.6" cy="138" rx="7.6" ry="5" fill="#fed384"/>
</g>
<use href="#ovl"/>
</g>
<use href="#logo"/>
<use href="#logo" x="640"/>
<text x="79" y="31" class="t1">Dagelijkse maximumtemperatuur</text>
<text x="79" y="51.5" class="t2">gemiddelde maart 2026</text>
<text x="719" y="31" class="t1">Afwijking van de normaalwaarde van de dagelijkse maximumtemperatuur</text>
<text x="719" y="51.5" class="t2">gemiddelde maart 2026 in vergelijking met de maandelijkse normaalwaarde 1991-2020</text>
<text x="633" y="73.4" class="un" text-anchor="end">°C</text>
<text x="1273.5" y="73.4" class="un" text-anchor="end">Verschil °C</text>
<rect x="563" y="96" width="26" height="36.5" fill="#a50026"/>
<rect x="563" y="132" width="26" height="36.5" fill="#d73027"/>
<rect x="563" y="168" width="26" height="36.5" fill="#f46d43"/>
<rect x="563" y="204" width="26" height="36.5" fill="#fdae61"/>
<rect x="563" y="240" width="26" height="36.5" fill="#fee090"/>
<rect x="563" y="276" width="26" height="36.5" fill="#ffffbf"/>
<rect x="563" y="312" width="26" height="36.5" fill="#e0f3f8"/>
<rect x="563" y="348" width="26" height="36.5" fill="#abd9e9"/>
<rect x="563" y="384" width="26" height="36.5" fill="#74add1"/>
<rect x="563" y="420" width="26" height="36.5" fill="#4575b4"/>
<rect x="563" y="456" width="26" height="36" fill="#313695"/>
<text x="601" y="102.15" class="lb">15</text>
<text x="601" y="138.059" class="lb">14.5</text>
<text x="601" y="173.968" class="lb">14</text>
<text x="601" y="209.877" class="lb">13.5</text>
<text x="601" y="245.786" class="lb">13</text>
<text x="601" y="281.695" class="lb">12.5</text>
<text x="601" y="317.605" class="lb">12</text>
<text x="601" y="353.514" class="lb">11.5</text>
<text x="601" y="389.423" class="lb">11</text>
<text x="601" y="425.332" class="lb">10.5</text>
<text x="601" y="461.241" class="lb">10</text>
<text x="601" y="497.15" class="lb">9.5</text>
<rect x="1203" y="96" width="26" height="79.7" fill="#a50026"/>
<rect x="1203" y="175.2" width="26" height="79.7" fill="#de3f2e"/>
<rect x="1203" y="254.4" width="26" height="79.7" fill="#f88d52"/>
<rect x="1203" y="333.6" width="26" height="79.7" fill="#fed384"/>
<rect x="1203" y="412.8" width="26" height="79.2" fill="#ffffbf"/>
<text x="1241" y="102.15" class="lb">4</text>
<text x="1241" y="181.15" class="lb">3.5</text>
<text x="1241" y="260.15" class="lb">3</text>
<text x="1241" y="339.15" class="lb">2.5</text>
<text x="1241" y="418.15" class="lb">2</text>
<text x="1241" y="497.15" class="lb">1.5</text>
</svg>
</body></html>
